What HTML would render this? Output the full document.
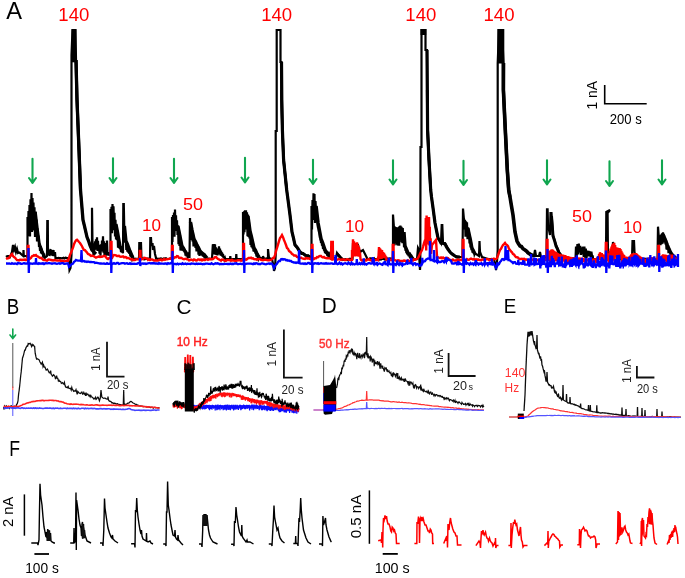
<!DOCTYPE html>
<html><head><meta charset="utf-8"><title>Figure</title>
<style>
html,body{margin:0;padding:0;background:#fff;}
body{width:685px;height:578px;overflow:hidden;}
svg{display:block;font-family:"Liberation Sans",sans-serif;}
</style></head><body>
<svg width="685" height="578" viewBox="0 0 685 578">
<defs><filter id="bl" x="-5%" y="-5%" width="110%" height="110%"><feGaussianBlur stdDeviation="0.35"/></filter></defs>
<rect width="685" height="578" fill="#fff"/>
<g>
<path d="M6.0 257.0 L7.0 256.3 L8.0 256.0 L9.0 256.1 L10.0 257.0 L11.0 254.7 L12.0 252.0 L13.0 245.0 L14.0 250.0 L15.0 247.0 L16.0 252.0 L17.0 249.0 L18.0 253.0 L19.0 252.5 L20.0 253.0 L21.0 254.0 L22.0 255.0 L23.3 256.0 L23.5 250.0 L23.8 256.0 L24.8 255.8 L26.0 256.0 L27.5 257.0 L27.5 217.0 L27.5 217.0 L28.0 236.1 L28.5 211.0 L29.0 233.7 L29.5 205.0 L30.0 236.4 L30.5 199.3 L31.0 220.2 L31.5 193.1 L32.0 232.1 L32.5 198.0 L33.0 218.9 L33.5 202.5 L34.0 230.4 L34.5 207.2 L35.0 236.9 L35.5 211.5 L36.0 236.0 L36.5 219.6 L37.0 241.4 L37.5 228.2 L38.0 240.2 L38.5 235.6 L39.0 246.9 L39.5 243.4 L40.0 251.0 L40.5 246.1 L41.0 253.4 L41.5 248.5 L42.0 254.2 L42.5 251.7 L43.0 255.1 L43.5 254.2 L44.0 256.3 L44.5 255.6 L45.0 257.7 L47.0 256.0 L47.3 221.0 L47.8 221.0 L48.0 255.0 L49.0 250.0 L49.5 256.0 L50.5 249.0 L51.0 255.0 L52.0 250.0 L52.5 256.0 L53.5 250.0 L54.0 256.0 L55.0 252.0 L55.5 258.0 L55.5 258.0 L56.5 258.2 L57.5 258.2 L58.5 257.8 L59.5 258.1 L60.5 258.0 L61.5 258.3 L62.5 258.2 L63.5 257.8 L64.5 258.4 L65.5 257.7 L66.5 257.9 L68.0 258.0 L69.0 262.0 L69.5 270.0 L70.5 268.0 L71.5 255.0 L71.5 55.0 L72.5 30.0 L74.0 30.0" fill="none" stroke="#000" stroke-width="2.2" stroke-linejoin="miter" />
<path d="M502.0 30.0 L503.5 63.0 L503.4 90.0 L505.3 130.0 L507.3 170.0 L508.7 190.0 L510.0 197.0 L513.0 215.0 L515.0 232.0 L517.0 241.0 L520.0 246.0 L522.0 247.9 L525.0 250.0 L527.0 252.2 L530.0 255.0 L532.0 255.7 L534.0 256.0 L535.0 250.0 L536.0 256.0 L539.0 256.0 L540.0 252.0 L541.0 257.0 L546.5 258.0 L547.0 209.4 L547.6 209.4 L548.0 225.0 L550.0 235.0 L550.5 213.0 L551.5 213.0 L553.0 235.0 L556.0 245.0 L559.0 252.0 L562.0 257.0 L562.0 259.0 L563.0 259.5 L564.0 258.9 L565.0 258.8 L566.0 259.6 L567.0 258.6 L568.0 259.3 L569.0 259.2 L570.0 258.5 L571.0 259.4 L572.0 259.5 L573.0 259.2 L574.0 259.3 L575.5 259.0 L576.0 246.5 L576.7 257.1 L577.4 244.0 L578.1 254.4 L578.8 243.6 L579.5 252.5 L580.2 245.9 L580.9 254.9 L581.6 247.3 L582.3 254.3 L583.0 246.7 L583.7 257.0 L584.4 246.6 L585.1 257.8 L585.8 248.6 L586.5 258.1 L587.2 250.6 L587.9 256.4 L588.6 250.9 L589.3 256.3 L590.0 251.4 L590.7 257.0 L591.4 251.7 L592.1 256.4 L592.8 256.4 L593.0 259.0 L594.0 259.0 L595.0 259.0 L596.0 259.2 L597.0 258.5 L598.0 259.3 L599.0 258.7 L600.0 258.5 L601.0 258.7 L602.0 259.3 L603.0 258.6 L604.0 259.3 L605.0 259.6 L606.0 259.0 L606.3 212.0 L610.0 210.0 L607.6 213.0 L608.0 258.0 L612.0 258.0 L613.0 242.0 L614.0 250.0 L616.0 252.0 L620.0 256.0 L620.0 259.0 L621.0 259.0 L622.0 258.9 L623.0 259.0 L624.0 259.2 L625.0 259.3 L626.0 259.1 L627.0 259.2 L628.0 258.5 L629.0 258.6 L630.0 258.7 L631.0 259.3 L632.0 259.0 L632.5 241.0 L634.0 241.0 L634.5 252.0 L636.0 259.0 L636.0 259.0 L637.0 258.8 L638.0 259.1 L639.0 258.4 L640.0 258.5 L641.0 258.7 L642.0 259.2 L643.0 259.2 L644.0 259.2 L645.0 258.7 L646.0 259.0 L647.0 259.0 L648.0 259.0 L649.0 258.5 L650.0 259.5 L651.0 258.6 L652.0 259.6 L653.0 259.5 L654.0 258.4 L655.0 259.0 L656.0 259.4 L657.5 259.0 L658.0 226.7 L659.0 240.0 L659.0 236.6 L659.5 244.8 L660.0 235.2 L660.5 245.2 L661.0 234.6 L661.5 244.2 L662.0 233.3 L662.5 243.6 L663.0 232.3 L663.5 239.4 L664.0 234.7 L664.5 242.5 L665.0 237.6 L665.5 244.4 L666.0 240.4 L666.5 249.5 L667.0 243.0 L667.5 249.9 L668.0 245.0 L668.5 253.1 L669.0 247.8 L669.5 253.1 L670.0 250.2 L670.5 255.0 L671.0 251.9 L671.5 255.4 L672.0 253.8 L672.5 256.7 L673.0 255.5 L673.5 256.6 L674.0 256.1 L674.5 257.3 L675.0 257.4 L675.5 258.1 L676.0 258.2 L678.0 259.0" fill="none" stroke="#000" stroke-width="2.2" stroke-linejoin="miter" />
<path d="M74.0 30.0 L75.5 30.0 L76.0 60.0 L77.0 100.0 L79.0 150.0 L80.5 190.0 L83.0 220.0 L85.0 228.8 L87.0 237.0 L89.0 241.9 L92.0 250.0 L92.0 207.7 L92.6 250.0 L93.0 245.3 L93.5 255.8 L94.0 243.4 L94.5 250.6 L95.0 241.3 L95.5 249.0 L96.0 239.2 L96.5 249.7 L97.0 237.4 L97.5 251.0 L98.0 240.9 L98.5 250.3 L99.0 244.9 L99.5 253.7 L100.0 248.4 L100.5 255.7 L101.0 244.4 L101.5 251.5 L102.0 240.6 L102.5 248.6 L103.0 236.2 L103.5 252.6 L104.0 241.4 L104.5 255.9 L105.0 246.3 L105.5 255.0 L106.0 243.1 L106.5 255.6 L107.0 240.5 L107.5 255.4 L108.0 252.1 L108.5 255.3 L109.0 253.3 L109.5 255.9 L110.0 253.9 L110.5 255.5 L110.5 256.0 L110.5 209.0 L110.5 209.5 L111.0 226.3 L111.5 206.9 L112.0 233.3 L112.5 204.0 L113.0 230.3 L113.5 206.4 L114.0 222.7 L114.5 212.8 L115.0 236.4 L115.5 219.7 L116.0 239.5 L116.5 226.0 L117.0 240.1 L117.5 231.4 L118.0 247.6 L118.5 237.0 L119.0 248.3 L119.5 242.6 L120.0 249.2 L120.5 246.2 L121.0 252.1 L121.5 247.9 L122.0 252.7 L122.5 249.2 L123.0 253.3 L123.3 204.0 L123.8 204.0 L123.8 204.5 L124.3 229.9 L124.8 228.5 L125.3 242.8 L125.8 238.2 L126.3 249.9 L126.8 242.4 L127.3 251.7 L127.8 244.5 L128.3 252.6 L128.8 247.1 L129.3 253.8 L129.8 249.5 L130.3 256.4 L130.8 252.2 L131.3 257.5 L131.8 255.0 L132.3 259.0 L132.8 258.0 L133.0 259.0 L134.0 259.1 L135.0 258.7 L136.0 258.8 L137.0 258.9 L138.0 258.9 L139.0 259.0 L139.3 243.0 L141.0 243.0 L141.5 259.0 L141.5 259.0 L142.5 258.7 L143.5 259.3 L144.5 259.4 L145.5 259.0 L146.5 259.0 L147.5 258.7 L148.5 258.7 L150.0 259.0 L150.3 238.0 L151.0 238.0 L151.5 246.0 L152.5 243.0 L153.0 250.0 L154.0 246.0 L155.0 254.0 L156.0 258.0 L156.0 259.0 L157.0 258.8 L158.0 258.7 L159.0 259.2 L160.0 258.6 L161.0 258.5 L162.0 259.2 L163.0 258.8 L164.0 258.5 L165.0 258.8 L166.0 258.3 L167.0 258.7 L168.0 259.0 L169.0 258.9 L170.0 258.7 L171.0 258.3 L172.0 258.5 L172.0 217.0 L172.0 217.2 L172.5 242.0 L173.0 214.9 L173.5 235.2 L174.0 212.4 L174.5 236.7 L175.0 209.5 L175.5 229.0 L176.0 215.2 L176.5 231.0 L177.0 220.3 L177.5 235.0 L178.0 225.4 L178.5 244.1 L179.0 230.3 L179.5 245.9 L180.0 235.0 L180.5 250.4 L181.0 240.2 L181.5 250.6 L182.0 245.4 L182.5 249.6 L183.0 246.9 L183.5 251.1 L184.0 248.9 L184.5 252.4 L185.0 250.2 L185.5 255.6 L186.0 251.6 L186.5 256.3 L187.0 253.1 L187.5 256.2 L188.0 255.0 L188.5 256.7 L189.0 256.3 L189.5 258.0 L190.0 218.0 L190.0 218.4 L190.5 235.6 L191.0 223.1 L191.5 240.0 L192.0 228.5 L192.5 241.5 L193.0 233.5 L193.5 246.5 L194.0 238.1 L194.5 246.4 L195.0 240.2 L195.5 247.9 L196.0 242.6 L196.5 251.4 L197.0 244.2 L197.5 250.0 L198.0 246.4 L198.5 254.8 L199.0 248.1 L199.5 255.9 L200.0 250.5 L200.5 254.5 L201.0 251.2 L201.5 255.1 L202.0 252.9 L202.5 256.1 L203.0 253.6 L203.5 256.9 L204.0 254.7 L204.5 258.3 L205.0 256.3 L205.5 257.8 L206.0 257.2 L206.5 258.2 L207.0 258.3 L212.0 259.0 L212.8 245.0 L213.0 244.5 L213.5 251.0 L214.0 244.1 L214.5 254.5 L215.0 244.2 L215.5 254.7 L216.0 247.4 L216.5 255.0 L217.0 250.3 L217.5 255.5 L218.0 248.5 L218.5 254.4 L219.0 246.3 L219.5 253.6 L220.0 248.5 L220.5 255.3 L221.0 250.6 L221.5 256.0 L222.0 252.3 L222.5 256.9 L223.0 254.0 L223.5 257.9 L224.0 256.1 L224.5 259.2 L225.0 258.0 L225.5 259.6 L226.0 259.3 L226.0 259.0 L230.0 259.0 L230.3 256.0 L230.6 259.0 L236.0 259.0 L236.3 254.0 L236.6 259.0 L243.0 259.0 L243.0 212.0 L243.0 212.4 L243.5 234.5 L244.0 211.2 L244.5 232.3 L245.0 210.3 L245.5 226.0 L246.0 210.4 L246.5 229.5 L247.0 212.3 L247.5 236.3 L248.0 214.5 L248.5 236.9 L249.0 222.3 L249.5 238.5 L250.0 230.5 L250.5 244.9 L251.0 234.6 L251.5 247.2 L252.0 238.8 L252.5 248.5 L253.0 243.0 L253.5 251.5 L254.0 247.3 L254.5 251.8 L255.0 249.4 L255.5 253.6 L256.0 251.6 L256.5 256.6 L257.0 253.3 L257.5 256.1 L258.0 255.5 L258.5 258.5 L259.0 257.1 L263.0 259.0 L263.0 256.0 L264.0 259.0 L268.0 258.0 L268.0 249.0 L269.0 258.0 L272.0 259.0 L273.5 266.0 L274.0 271.0 L275.0 268.0 L275.7 255.0 L275.7 131.0 L276.7 131.0 L276.7 30.0 L280.5 30.0 L280.5 62.0 L281.5 62.0 L281.5 100.0 L281.5 100.0 L282.4 130.0 L283.6 160.0 L286.7 190.0 L290.0 215.0 L292.0 232.0 L295.0 245.0 L297.0 247.7 L300.0 252.0 L302.0 252.8 L305.0 255.0 L307.0 255.5 L310.0 257.0 L311.5 257.0 L311.5 206.0 L311.5 206.0 L312.0 229.5 L312.5 200.1 L313.0 219.9 L313.5 193.3 L314.0 218.9 L314.5 193.9 L315.0 223.0 L315.5 201.0 L316.0 209.7 L316.5 208.6 L317.0 218.0 L317.5 217.7 L318.0 228.1 L318.5 225.3 L319.0 231.6 L319.5 230.1 L320.0 237.9 L320.5 235.6 L321.0 243.0 L321.5 239.5 L322.0 245.6 L322.5 242.6 L323.0 248.9 L323.5 245.2 L324.0 250.3 L324.5 247.6 L325.0 253.2 L325.5 250.1 L326.0 253.7 L326.5 251.1 L327.0 253.7 L327.5 253.0 L328.0 254.8 L328.5 254.0 L329.0 256.9 L329.5 255.3 L330.0 257.2 L332.0 258.0 L336.0 258.0 L337.0 253.0 L340.0 257.0 L343.0 260.0 L343.0 260.0 L344.0 259.5 L345.0 259.2 L346.0 259.6 L347.0 260.2 L348.0 260.0 L349.0 259.0 L350.0 258.7 L351.0 259.8 L352.5 259.0 L353.0 243.0 L354.0 250.0 L356.0 246.0 L358.0 245.0 L360.0 252.0 L363.0 250.0 L365.0 254.0 L367.0 258.0 L367.0 259.0 L368.0 259.1 L369.0 259.3 L370.0 258.3 L371.0 258.3 L372.0 259.3 L373.0 258.9 L374.0 258.3 L375.0 259.7 L376.0 259.2 L377.0 259.5 L378.0 258.3 L379.0 259.6 L380.0 258.3 L381.0 259.6 L382.0 258.9 L383.0 258.7 L384.0 259.1 L385.0 259.7 L386.0 258.6 L387.0 258.4 L388.0 259.0 L389.0 258.6 L390.0 258.4 L391.0 258.5 L392.0 258.3 L393.0 259.0 L393.0 214.6 L394.0 228.0 L394.0 226.1 L394.4 245.4 L394.8 226.6 L395.2 240.3 L395.6 227.0 L396.0 243.1 L396.4 227.3 L396.8 244.7 L397.2 227.6 L397.6 245.6 L398.0 228.0 L398.4 240.4 L398.8 227.1 L399.2 245.7 L399.6 225.9 L400.0 237.0 L400.4 225.5 L400.8 238.6 L401.2 226.5 L401.6 242.2 L402.0 227.5 L402.4 243.2 L402.8 228.1 L403.2 241.3 L403.6 233.7 L404.0 246.9 L404.4 240.4 L404.8 248.0 L405.2 245.8 L405.6 250.9 L406.0 247.5 L406.4 253.2 L406.8 249.3 L407.2 254.5 L407.6 251.5 L408.0 255.5 L408.4 252.7 L408.8 256.5 L409.2 254.2 L409.6 256.0 L410.0 255.2 L410.4 257.6 L410.8 256.1 L411.2 258.3 L411.6 257.3 L412.0 259.1 L412.4 258.4 L412.8 259.7 L417.0 259.0 L418.0 248.0 L419.0 250.0 L419.5 262.0 L420.0 270.0 L420.3 265.0 L420.5 147.0 L421.5 147.0 L421.5 30.0 L425.5 30.0 L425.5 50.0 L427.0 50.0 L427.3 100.0 L427.3 100.0 L427.6 130.0 L429.0 160.0 L430.7 190.0 L431.5 197.0 L435.0 223.0 L438.0 238.0 L441.0 243.0 L441.7 225.0 L442.3 225.0 L443.0 243.0 L445.0 243.0 L450.0 252.0 L455.0 256.0 L460.0 257.0 L462.5 257.0 L463.0 208.5 L464.0 220.0 L464.0 218.6 L464.5 229.5 L465.0 219.7 L465.5 236.7 L466.0 221.2 L466.5 235.7 L467.0 222.2 L467.5 239.2 L468.0 227.2 L468.5 238.8 L469.0 232.3 L469.5 243.5 L470.0 237.3 L470.5 247.5 L471.0 242.2 L471.5 250.2 L472.0 247.2 L472.5 252.6 L473.0 249.0 L473.5 253.4 L474.0 251.1 L474.5 254.4 L475.0 253.3 L479.0 256.0 L479.5 241.0 L480.0 252.0 L482.0 257.0 L488.0 259.0 L494.0 259.0 L495.5 266.0 L496.0 270.0 L496.8 265.0 L497.7 250.0 L497.7 63.0 L499.0 30.0 L501.0 30.0" fill="none" stroke="#000" stroke-width="2.2" stroke-linejoin="miter" />
<path d="M76.0 60.0 L77.0 100.0 L79.0 150.0 L80.5 190.0 L83.0 220.0 L84.5 226.2 L87.0 237.0 L88.5 240.8 L90.0 245.5 L92.0 250.0 L93.5 251.6 L96.0 254.0" fill="none" stroke="#000" stroke-width="3.3" stroke-linejoin="miter" />
<path d="M281.5 62.0 L281.8 100.0 L282.4 130.0 L283.6 160.0 L285.1 174.3 L286.7 190.0 L288.2 201.3 L290.0 215.0 L292.0 232.0 L293.5 238.2 L295.0 245.0 L296.5 246.5 L298.0 248.6 L300.0 252.0 L301.5 253.4 L303.0 253.5 L305.0 255.0 L306.5 256.2 L308.0 255.8 L310.0 257.0" fill="none" stroke="#000" stroke-width="3.2" stroke-linejoin="miter" />
<path d="M427.0 50.0 L427.6 130.0 L429.0 160.0 L430.7 190.0 L431.5 197.0 L433.0 207.8 L435.0 223.0 L436.5 230.5 L438.0 238.0 L439.5 240.1 L441.0 243.0 L442.5 243.2 L445.0 244.0 L446.5 247.0 L448.0 249.3 L450.0 252.0 L451.5 253.6 L453.0 254.6 L455.0 256.0 L456.5 256.9 L458.0 257.2 L460.0 257.0" fill="none" stroke="#000" stroke-width="3.2" stroke-linejoin="miter" />
<path d="M503.5 63.0 L503.4 90.0 L505.3 130.0 L507.3 170.0 L508.7 190.0 L510.0 197.0 L511.5 206.1 L513.0 215.0 L515.0 232.0 L517.0 241.0 L518.5 243.8 L520.0 246.0 L521.5 246.6 L523.0 248.7 L525.0 250.0 L526.5 251.1 L528.0 252.8 L530.0 254.0 L531.5 255.0 L534.0 256.0" fill="none" stroke="#000" stroke-width="3.6" stroke-linejoin="miter" />
<path d="M35.5 212.0 L37.5 229.0 L39.5 244.0 L41.0 247.8 L43.5 255.0" fill="none" stroke="#000" stroke-width="2.6" stroke-linejoin="miter" />
<path d="M116.0 224.0 L117.5 231.6 L120.0 246.0 L121.5 249.1 L123.0 251.0" fill="none" stroke="#000" stroke-width="3.2" stroke-linejoin="miter" />
<path d="M124.5 226.0 L126.0 241.0 L127.5 244.2 L130.0 251.0 L131.5 254.5 L133.0 258.0" fill="none" stroke="#000" stroke-width="3.2" stroke-linejoin="miter" />
<path d="M178.0 226.0 L179.5 233.3 L182.0 246.0 L183.5 248.2 L185.0 251.0 L186.5 253.2 L189.0 256.0" fill="none" stroke="#000" stroke-width="3.2" stroke-linejoin="miter" />
<path d="M190.5 222.0 L192.0 230.0 L194.0 239.0 L195.5 241.7 L197.0 245.2 L198.5 247.7 L200.0 251.0 L201.5 252.6 L203.0 253.9 L204.5 255.0 L207.0 258.0" fill="none" stroke="#000" stroke-width="3.4" stroke-linejoin="miter" />
<path d="M248.0 216.0 L250.0 231.0 L251.5 236.9 L254.0 248.0 L255.5 250.3 L257.0 254.0 L259.0 257.0" fill="none" stroke="#000" stroke-width="3.4" stroke-linejoin="miter" />
<path d="M316.0 206.0 L318.0 223.0 L319.5 231.0 L321.0 239.0 L322.5 242.7 L325.0 250.0 L326.5 252.4 L328.0 254.3 L330.0 256.0" fill="none" stroke="#000" stroke-width="3.6" stroke-linejoin="miter" />
<path d="M404.0 232.0 L405.0 246.0 L406.5 249.4 L408.0 253.0 L409.5 254.3 L411.0 256.2 L413.0 259.0" fill="none" stroke="#000" stroke-width="3.4" stroke-linejoin="miter" />
<path d="M468.0 228.0 L469.0 233.0 L470.5 239.9 L472.0 248.0 L473.5 250.8 L475.0 254.0" fill="none" stroke="#000" stroke-width="3.2" stroke-linejoin="miter" />
<path d="M551.5 216.0 L553.0 236.0 L554.5 240.4 L556.0 246.0 L557.5 249.1 L559.0 253.0 L560.5 254.7 L562.0 257.0" fill="none" stroke="#000" stroke-width="3.0" stroke-linejoin="miter" />
<path d="M663.0 234.0 L664.5 237.6 L666.0 241.0 L667.5 245.3 L670.0 251.0 L671.5 253.8 L673.0 256.0 L674.5 256.9 L676.0 258.0" fill="none" stroke="#000" stroke-width="3.2" stroke-linejoin="miter" />
<path d="M337.0 254.0 L338.5 255.4 L340.0 257.0 L341.5 258.5 L343.0 260.0" fill="none" stroke="#000" stroke-width="3" stroke-linejoin="miter" />
<rect x="71.6" y="29.3" width="4.6" height="33" fill="#000"/>
<path d="M76 60 L77 100 L79 150 L80.5 190" stroke="#000" stroke-width="3" fill="none"/>
<rect x="497.3" y="29" width="7" height="34.5" fill="#000"/>
<path d="M503.3 63 L503.4 90 L505.3 130 L507.3 170 L508.7 190 L510 197" stroke="#000" stroke-width="3.2" fill="none"/>
<rect x="420.6" y="29" width="5.6" height="6" fill="#000"/>
<path d="M427.3 90 L427.6 130 L429 160 L430.7 190" stroke="#000" stroke-width="2.8" fill="none"/>
<path d="M281.5 90 L282.4 130 L283.6 160 L286.7 190" stroke="#000" stroke-width="2.6" fill="none"/>
<path d="M6.0 259.0 L7.0 258.5 L8.0 258.2 L9.0 258.0 L10.0 256.2 L11.0 255.1 L12.0 254.0 L13.0 256.0 L14.0 257.0 L15.0 257.6 L16.0 259.0 L17.0 260.0 L18.0 260.1 L19.0 260.4 L20.0 259.7 L21.0 259.8 L22.0 260.0 L23.0 259.6 L24.0 259.7 L25.0 259.6 L26.0 260.1 L27.0 259.5 L27.6 259.5 L27.8 246.0 L28.5 246.0 L28.7 259.5 L29.0 259.0 L30.0 258.7 L31.0 257.9 L32.0 256.2 L33.0 256.0 L34.0 255.1 L35.0 255.6 L36.0 255.0 L37.0 256.2 L38.0 256.5 L39.0 257.4 L40.0 258.0 L41.0 257.8 L42.0 258.7 L43.0 259.7 L44.0 260.0 L45.0 260.0 L46.0 260.4 L47.0 260.6 L48.0 259.7 L49.0 259.5 L50.0 259.6 L51.0 260.0 L52.0 260.2 L53.0 260.5 L54.0 260.3 L55.0 260.0 L56.0 260.3 L57.0 260.6 L58.0 260.4 L59.0 260.6 L60.0 260.2 L61.0 261.2 L62.0 261.0 L63.0 260.7 L64.0 261.5 L65.0 261.2 L66.0 260.8 L67.0 260.6 L68.0 261.0 L69.0 258.0 L70.0 255.0 L71.0 252.8 L72.0 250.0 L73.0 247.6 L74.0 244.2 L75.0 242.0 L76.0 240.3 L77.0 239.7 L78.0 240.8 L79.0 242.0 L80.0 243.0 L81.0 244.6 L82.0 246.2 L83.0 248.4 L84.0 250.0 L85.0 250.2 L86.0 251.4 L87.0 252.5 L88.0 253.9 L89.0 254.3 L90.0 255.0 L91.0 255.9 L92.0 255.8 L93.0 255.9 L94.0 256.3 L95.0 257.0 L96.0 257.6 L97.0 257.2 L98.0 256.8 L99.0 256.4 L100.0 257.0 L101.0 256.8 L102.0 256.8 L103.0 256.3 L104.0 255.9 L105.0 256.0 L106.0 257.2 L107.0 258.5 L108.0 259.0 L109.0 258.2 L110.3 258.0 L110.6 258.0 L110.8 242.0 L111.5 242.0 L111.7 258.0 L112.0 258.0 L113.0 255.9 L114.0 255.0 L115.0 255.1 L116.0 255.4 L117.0 256.0 L118.0 256.0 L119.0 255.8 L120.0 256.6 L121.0 256.7 L122.0 256.6 L123.0 256.4 L124.0 257.4 L125.0 257.0 L126.0 257.2 L127.0 258.2 L128.0 257.9 L129.0 258.3 L130.0 259.0 L131.0 259.5 L132.0 259.2 L133.0 260.1 L134.0 259.8 L135.0 260.0 L136.0 259.4 L137.0 259.2 L138.0 259.2 L139.3 259.0 L139.6 259.5 L139.8 251.0 L140.5 251.0 L140.7 259.5 L141.0 259.0 L142.0 258.9 L143.0 259.0 L144.0 257.8 L145.0 258.0 L146.0 258.3 L147.0 258.5 L148.0 259.8 L149.0 259.2 L150.0 260.0 L151.0 259.5 L152.0 259.5 L153.0 259.9 L154.0 260.5 L155.0 260.5 L156.0 260.3 L157.0 260.6 L158.0 260.5 L159.0 259.8 L160.0 260.0 L161.0 259.5 L162.0 260.3 L163.0 260.0 L164.0 259.1 L165.0 259.8 L166.0 259.3 L167.0 259.2 L168.0 259.1 L169.0 258.8 L170.0 258.5 L171.3 259.0 L171.8 259.5 L172.0 246.0 L172.7 246.0 L172.9 259.5 L173.0 259.0 L174.0 258.0 L175.0 257.3 L176.0 257.3 L177.0 256.0 L178.0 256.2 L179.0 257.9 L180.0 258.0 L181.0 257.8 L182.0 258.2 L183.0 259.0 L184.0 259.2 L185.0 258.9 L186.0 258.7 L187.0 259.4 L188.0 259.4 L189.0 260.3 L190.0 260.0 L191.0 259.6 L192.0 259.8 L193.0 260.5 L194.0 259.4 L195.0 259.9 L196.0 260.4 L197.0 260.3 L198.0 259.4 L199.0 259.4 L200.0 260.0 L201.0 259.4 L202.0 260.4 L203.0 259.5 L204.0 260.0 L205.0 260.1 L206.0 259.3 L207.0 259.2 L208.0 259.9 L209.0 259.4 L210.0 258.9 L211.0 259.4 L212.0 258.9 L213.0 259.0 L214.0 258.1 L215.0 257.1 L216.0 257.0 L217.0 258.1 L218.0 259.0 L219.0 259.4 L220.0 260.0 L221.0 260.6 L222.0 259.5 L223.0 259.7 L224.0 260.1 L225.0 260.7 L226.0 260.7 L227.0 260.0 L228.0 259.9 L229.0 260.1 L230.0 260.2 L231.0 260.8 L232.0 259.9 L233.0 260.6 L234.0 260.6 L235.0 260.7 L236.0 260.7 L237.0 260.5 L238.0 260.2 L239.0 260.2 L240.0 260.3 L241.0 260.8 L242.0 260.0 L243.0 260.5 L243.1 260.0 L243.3 244.0 L244.0 244.0 L244.2 260.0 L244.5 260.0 L245.5 259.3 L246.5 259.6 L247.5 258.6 L248.5 258.0 L250.0 258.0 L251.0 257.6 L252.0 258.4 L253.0 258.3 L254.0 259.2 L255.0 259.3 L256.0 259.0 L257.0 259.8 L258.0 259.1 L259.0 259.0 L260.0 259.2 L261.0 259.8 L262.0 260.0 L263.0 260.3 L264.0 259.9 L265.0 259.7 L266.0 259.9 L267.0 260.1 L268.0 260.2 L269.0 260.3 L270.0 260.0 L271.0 259.9 L272.0 259.2 L273.0 258.0 L274.0 258.0 L275.0 255.1 L276.0 251.1 L277.0 248.0 L278.0 244.7 L279.0 241.2 L280.0 238.0 L281.0 236.8 L282.0 235.0 L283.0 237.1 L284.0 240.0 L285.0 242.4 L286.0 245.0 L287.0 248.0 L288.0 248.8 L289.0 250.9 L290.0 251.7 L291.0 252.6 L292.0 254.0 L293.0 254.4 L294.0 255.6 L295.0 255.5 L296.0 255.7 L297.0 256.9 L298.0 257.2 L299.0 258.1 L300.0 258.0 L301.0 257.6 L302.0 258.2 L303.0 258.7 L304.0 258.8 L305.0 259.0 L306.0 258.0 L307.0 258.5 L308.0 258.3 L309.0 258.5 L310.0 259.0 L311.3 259.0 L311.6 259.5 L311.8 245.0 L312.5 245.0 L312.7 259.5 L313.0 259.0 L314.0 259.1 L315.0 258.2 L316.0 258.2 L317.0 257.1 L318.0 257.3 L319.0 256.4 L320.0 256.0 L321.0 256.0 L322.0 257.0 L323.0 257.5 L324.0 256.9 L325.0 257.8 L326.0 258.0 L327.0 258.3 L328.0 258.1 L329.0 258.4 L330.0 258.4 L331.0 259.0 L331.3 242.0 L332.8 242.0 L333.0 259.0 L333.0 259.5 L334.0 259.2 L335.0 259.3 L336.0 259.7 L337.0 259.8 L338.0 259.3 L339.0 259.1 L340.0 259.5 L341.0 259.9 L342.0 259.4 L343.0 259.5 L344.0 259.4 L345.0 260.2 L346.0 259.9 L347.0 259.3 L348.0 259.4 L349.0 259.8 L350.0 260.0 L351.0 260.1 L352.0 260.0 L352.0 250.1 L352.5 257.8 L353.0 239.4 L353.5 255.1 L354.0 241.2 L354.5 256.4 L355.0 243.6 L355.5 256.5 L356.0 242.8 L356.5 256.0 L357.0 242.2 L357.5 252.2 L358.0 245.1 L358.5 256.6 L359.0 247.1 L359.5 255.6 L360.0 252.5 L360.5 259.0 L361.0 260.0 L362.0 260.6 L363.0 259.9 L364.0 260.5 L365.0 259.8 L366.0 260.6 L367.0 259.9 L368.0 259.5 L369.0 259.2 L370.0 260.1 L371.0 260.2 L372.0 260.7 L373.0 259.3 L374.0 260.2 L375.0 259.8 L376.0 260.0 L377.0 259.4 L378.0 260.0 L378.0 258.2 L378.5 256.3 L379.0 247.0 L379.5 259.3 L380.0 248.3 L380.5 255.4 L381.0 249.6 L381.5 259.0 L382.0 250.1 L382.5 255.6 L383.0 252.1 L383.5 258.1 L384.0 253.0 L384.5 257.1 L385.0 254.7 L385.5 257.9 L386.0 256.4 L386.5 260.0 L387.5 260.4 L388.5 259.6 L389.5 260.3 L390.5 259.7 L392.3 260.0 L392.6 260.0 L392.8 245.0 L393.5 245.0 L393.7 260.0 L394.0 260.0 L395.0 260.1 L396.0 260.7 L397.0 260.9 L398.0 260.3 L399.0 260.5 L400.0 261.0 L401.0 260.9 L402.0 261.0 L403.0 260.9 L404.0 260.5 L405.0 260.7 L406.0 261.3 L407.0 261.5 L408.0 260.4 L409.0 261.1 L410.0 261.0 L411.0 261.0 L412.0 259.9 L413.0 260.5 L414.0 259.4 L415.0 259.7 L416.0 259.3 L417.0 259.0 L418.0 258.0 L419.0 256.2 L420.0 253.8 L421.0 251.9 L422.0 250.0 L423.0 246.8 L424.0 243.2 L425.0 240.0 L425.0 240.4 L425.4 245.5 L425.8 217.9 L426.2 250.4 L426.6 215.6 L427.0 243.0 L427.4 219.6 L427.8 239.5 L428.2 219.1 L428.6 244.5 L429.0 217.1 L429.4 245.6 L429.8 226.7 L430.2 252.0 L430.6 238.3 L431.0 253.8 L432.0 245.0 L436.0 240.0 L437.0 256.0 L437.0 257.0 L438.0 257.3 L439.0 257.7 L440.0 258.0 L441.0 257.4 L442.0 258.2 L443.0 257.5 L444.0 258.3 L445.0 258.3 L446.0 258.0 L447.0 258.0 L448.0 258.1 L449.0 259.3 L450.0 260.0 L451.0 259.9 L452.0 260.5 L453.0 259.6 L454.0 260.4 L455.0 260.6 L456.0 260.3 L457.0 260.4 L458.0 259.6 L459.0 260.6 L460.0 260.0 L461.0 260.0 L462.3 260.0 L462.6 260.0 L462.8 240.0 L463.5 240.0 L463.7 260.0 L464.0 260.0 L465.0 260.4 L466.0 260.2 L467.0 259.1 L468.0 259.7 L469.0 259.7 L470.0 259.0 L471.0 258.6 L472.0 259.0 L473.0 259.6 L474.0 259.0 L475.0 260.0 L476.0 259.3 L477.0 260.1 L478.0 259.4 L479.0 259.9 L480.0 260.0 L481.0 260.4 L482.0 259.5 L483.0 259.5 L484.0 259.8 L485.0 259.5 L486.0 259.1 L487.0 259.2 L488.0 259.1 L489.0 260.0 L490.0 259.6 L491.0 259.8 L492.0 258.9 L493.0 259.5 L494.0 258.7 L495.0 259.1 L496.0 259.0 L497.0 258.0 L498.0 255.5 L499.0 252.5 L500.0 250.0 L501.0 248.8 L502.0 246.7 L503.0 245.0 L504.0 244.1 L505.0 243.0 L506.0 244.5 L507.0 245.0 L508.0 246.2 L509.0 248.9 L510.0 250.0 L511.0 251.4 L512.0 252.3 L513.0 254.0 L514.0 254.5 L515.0 256.0 L516.0 257.2 L517.0 257.3 L518.0 257.6 L519.0 258.7 L520.0 259.0 L521.0 259.0 L522.0 258.8 L523.0 259.6 L524.0 258.9 L525.0 259.9 L526.0 259.3 L527.0 259.9 L528.0 260.4 L529.0 260.0 L530.0 260.0 L531.0 260.2 L532.0 259.8 L533.0 259.4 L534.0 259.4 L535.0 259.6 L536.0 260.1 L537.0 259.9 L538.0 260.0 L539.0 260.5 L540.0 259.6 L541.0 259.7 L542.0 260.2 L543.0 259.4 L544.0 259.4 L545.0 259.8 L546.3 260.0 L546.6 258.0 L546.8 240.0 L547.5 240.0 L547.7 258.0 L547.8 252.1 L548.2 261.0 L548.7 251.5 L549.2 259.5 L549.6 251.1 L550.1 261.7 L550.5 250.4 L551.0 259.9 L551.4 249.5 L551.9 256.5 L552.3 249.4 L552.8 262.0 L553.2 250.0 L553.7 258.9 L554.1 251.1 L554.6 258.3 L555.0 251.5 L555.5 261.5 L555.9 251.9 L556.4 259.5 L556.8 252.7 L557.3 261.2 L557.7 253.2 L558.2 260.8 L558.6 253.9 L559.1 259.5 L559.5 253.9 L560.0 258.9 L560.4 254.1 L560.9 260.7 L561.3 254.5 L561.8 262.0 L562.2 254.5 L562.7 259.7 L563.1 254.6 L563.6 260.7 L564.0 255.4 L564.5 262.4 L564.9 255.1 L565.4 260.6 L565.8 255.6 L566.3 260.6 L566.7 256.2 L567.2 262.4 L567.6 256.2 L568.1 262.0 L568.5 256.4 L569.0 260.1 L569.4 257.2 L569.9 260.8 L570.3 257.0 L570.8 260.5 L571.2 257.4 L571.7 261.6 L572.1 257.4 L572.6 261.6 L573.0 257.1 L573.5 262.7 L573.9 257.1 L574.4 262.9 L574.8 257.2 L575.3 260.8 L575.7 257.5 L576.2 260.5 L576.6 257.5 L577.1 262.2 L577.5 257.5 L578.0 261.7 L578.4 257.7 L578.9 261.5 L579.3 257.5 L579.8 261.2 L580.2 258.0 L580.7 262.4 L581.1 258.0 L581.6 263.0 L582.0 257.7 L582.5 262.4 L582.9 258.1 L583.4 260.5 L583.8 258.3 L584.3 262.2 L584.7 258.5 L585.2 262.2 L585.6 258.3 L586.1 260.8 L586.5 258.7 L587.0 261.4 L587.4 258.9 L587.9 260.8 L588.3 259.0 L588.8 261.2 L589.2 259.3 L589.7 261.3 L590.1 259.2 L590.6 261.5 L591.0 259.2 L591.5 262.4 L591.9 258.9 L592.4 261.7 L592.8 258.6 L593.3 261.0 L593.7 258.6 L594.2 262.9 L594.6 258.4 L595.1 260.8 L595.5 258.4 L596.0 262.7 L596.4 258.1 L596.9 262.9 L597.3 257.8 L597.8 260.9 L598.2 256.0 L598.7 259.9 L599.1 253.8 L599.6 260.0 L600.0 252.2 L600.5 258.6 L600.9 253.1 L601.4 258.5 L601.8 253.2 L602.3 258.9 L602.7 254.3 L603.2 258.8 L603.6 254.5 L604.1 262.2 L604.5 255.3 L605.0 262.9 L605.4 256.4 L605.6 260.0 L605.8 243.0 L606.5 243.0 L606.7 260.0 L607.0 258.5 L607.5 261.4 L607.9 256.1 L608.4 260.6 L608.8 253.4 L609.3 262.9 L609.7 250.9 L610.2 258.2 L610.6 248.6 L611.1 260.9 L611.5 246.5 L612.0 263.3 L612.4 244.6 L612.9 260.7 L613.3 243.5 L613.8 259.6 L614.2 242.7 L614.7 253.9 L615.1 245.1 L615.6 256.0 L616.0 247.4 L616.5 263.2 L616.9 247.5 L617.4 260.0 L617.8 247.9 L618.3 260.7 L618.7 248.1 L619.2 259.3 L619.6 248.0 L620.1 256.9 L620.5 249.1 L621.0 257.9 L621.4 250.9 L621.9 263.5 L622.3 252.5 L622.8 259.5 L623.2 254.2 L623.7 263.5 L624.1 255.1 L624.6 261.5 L625.0 256.5 L625.5 262.8 L625.9 256.5 L626.4 262.3 L626.8 256.9 L627.3 262.6 L627.7 257.2 L628.2 262.5 L628.6 257.0 L629.1 261.2 L629.5 256.6 L630.0 263.1 L630.4 255.5 L630.9 263.1 L631.3 254.4 L631.8 260.0 L632.2 253.5 L632.7 260.2 L633.1 253.2 L633.6 261.4 L634.0 253.2 L634.5 258.8 L634.9 253.1 L635.4 258.8 L635.8 253.0 L636.3 262.4 L636.7 253.7 L637.2 259.2 L637.6 254.5 L638.1 261.8 L638.5 255.4 L639.0 262.5 L639.4 255.8 L639.9 261.5 L640.3 256.6 L640.8 260.8 L641.2 257.1 L641.7 262.4 L642.1 257.5 L642.6 263.0 L643.0 258.3 L643.5 261.7 L643.9 258.8 L644.4 263.1 L644.8 259.1 L645.3 261.7 L645.7 259.1 L646.2 263.2 L646.6 258.6 L647.1 261.1 L647.5 258.1 L648.0 263.0 L648.4 257.8 L648.9 261.4 L649.3 257.8 L649.8 263.0 L650.2 257.1 L650.7 262.7 L651.1 257.3 L651.6 261.9 L652.0 257.4 L652.5 262.5 L652.9 257.5 L653.4 260.5 L653.8 257.9 L654.3 263.2 L654.7 258.2 L655.2 263.2 L655.6 258.0 L656.1 260.7 L656.5 258.3 L657.0 261.4 L657.4 258.2 L658.1 262.0 L658.3 246.0 L659.0 246.0 L659.2 262.0 L659.5 258.1 L660.0 261.9 L660.4 257.0 L660.9 263.2 L661.3 256.2 L661.8 263.9 L662.2 255.2 L662.7 260.2 L663.1 254.4 L663.6 261.5 L664.0 254.6 L664.5 261.8 L664.9 254.5 L665.4 261.1 L665.8 254.8 L666.3 260.5 L666.7 255.3 L667.2 262.0 L667.6 255.3 L668.1 260.6 L668.5 255.1 L669.0 262.9 L669.4 255.1 L669.9 259.8 L670.3 254.9 L670.8 260.6 L671.2 254.7 L671.7 260.6 L672.1 254.5 L672.6 261.9 L673.0 255.2 L673.5 261.3 L673.9 256.0 L674.4 262.4 L674.8 257.3 L675.3 261.5 L675.7 257.7 L676.2 263.2 L676.6 258.1 L678.0 262.0" fill="none" stroke="#f00" stroke-width="2.4" stroke-linejoin="miter" />
<path d="M6.0 263.5 L7.0 263.5 L8.0 263.6 L9.0 263.4 L10.0 263.7 L11.0 263.9 L12.0 263.2 L13.0 263.7 L14.0 263.8 L15.0 263.4 L16.0 263.5 L17.0 264.0 L18.0 263.0 L19.0 263.5 L20.0 263.2 L21.0 263.8 L22.0 263.9 L23.0 263.5 L24.0 263.1 L25.0 263.6 L26.0 263.5 L27.0 263.7 L28.0 263.5 L28.2 263.5 L28.5 248.0 L28.8 273.0 L29.1 263.5 L29.5 263.5 L30.5 263.5 L31.5 263.6 L32.5 263.8 L33.5 263.5 L34.5 263.4 L35.7 263.5 L36.0 258.0 L36.3 263.5 L37.0 263.5 L38.0 263.9 L39.0 263.2 L40.0 263.7 L41.0 263.4 L42.0 263.8 L43.0 263.1 L44.0 264.0 L45.0 263.4 L46.0 263.1 L47.0 263.3 L48.0 263.4 L49.0 263.0 L50.0 263.4 L51.0 263.4 L52.0 263.7 L53.0 263.4 L54.0 263.3 L55.0 263.2 L56.0 263.7 L57.0 263.9 L58.0 263.5 L59.0 263.2 L60.0 263.8 L61.0 263.4 L62.0 263.2 L63.0 263.1 L64.0 263.8 L65.0 263.8 L66.0 263.6 L67.0 263.5 L68.0 263.5 L69.0 267.0 L70.0 266.1 L71.0 264.7 L72.0 264.0 L73.0 263.5 L74.0 261.9 L75.0 261.1 L76.0 260.0 L77.0 260.5 L78.0 260.7 L79.0 260.6 L80.0 260.6 L81.0 261.0 L81.5 250.0 L82.0 261.0 L82.0 261.0 L83.0 261.2 L84.0 260.9 L85.0 261.7 L86.0 261.4 L87.0 262.0 L88.0 261.5 L89.0 261.8 L90.0 262.0 L91.0 261.9 L92.0 262.2 L93.0 262.1 L94.0 262.1 L95.0 263.0 L96.0 262.7 L97.0 262.8 L98.0 263.0 L99.0 263.3 L100.0 263.5 L101.0 263.4 L102.0 263.6 L103.0 263.7 L104.0 263.4 L105.0 263.9 L106.0 263.9 L107.0 263.1 L108.0 263.8 L109.0 263.9 L110.5 263.5 L110.7 263.5 L111.0 250.0 L111.3 273.0 L111.6 263.5 L112.0 263.5 L113.0 263.8 L114.0 263.1 L115.0 263.8 L116.0 263.6 L117.0 263.0 L118.0 263.0 L119.0 264.0 L120.0 263.7 L121.0 263.3 L122.0 263.1 L123.0 263.1 L124.0 263.2 L125.0 263.8 L126.0 263.3 L127.0 263.2 L128.0 263.9 L129.0 263.8 L130.0 263.2 L131.0 263.9 L132.0 263.6 L133.0 263.8 L134.0 263.7 L135.0 263.9 L136.0 263.8 L137.0 263.8 L138.0 263.2 L139.7 263.5 L140.0 258.0 L140.3 266.0 L140.6 263.5 L141.0 263.5 L142.0 263.7 L143.0 263.5 L144.0 263.7 L145.0 263.4 L146.0 263.9 L147.0 263.6 L148.0 263.3 L149.0 263.2 L150.0 263.1 L151.0 263.5 L152.0 263.1 L153.0 263.5 L154.0 263.1 L155.0 263.5 L156.0 263.5 L157.0 263.5 L158.0 263.9 L159.0 263.0 L160.0 263.8 L161.0 263.5 L162.0 263.6 L163.0 263.7 L164.0 263.8 L165.0 263.4 L166.0 263.4 L167.0 264.0 L168.0 263.1 L169.0 263.6 L170.0 263.6 L171.0 263.0 L172.0 263.5 L172.2 263.5 L172.5 251.0 L172.8 273.0 L173.1 263.5 L173.5 263.8 L174.5 263.9 L175.5 264.0 L176.5 264.2 L177.5 263.6 L178.5 264.3 L179.5 263.8 L180.5 263.8 L181.5 264.2 L182.5 263.3 L183.5 264.0 L184.5 263.9 L185.5 263.6 L186.5 264.2 L187.5 263.7 L188.5 263.8 L189.5 263.8 L190.5 264.1 L191.5 263.5 L192.5 263.7 L193.5 263.7 L194.5 263.9 L195.5 264.1 L196.5 263.6 L197.5 264.1 L198.5 263.7 L199.5 263.8 L200.5 263.6 L201.5 263.8 L202.5 264.3 L203.5 264.0 L204.5 264.1 L205.5 263.6 L206.5 263.6 L207.5 263.6 L208.5 263.9 L209.5 263.9 L210.5 264.1 L211.5 263.3 L212.5 264.0 L213.5 264.2 L214.5 263.8 L215.5 263.3 L216.5 263.6 L217.5 263.3 L218.5 263.5 L219.5 264.2 L220.5 263.9 L221.5 264.0 L222.5 264.1 L223.5 264.2 L224.5 263.9 L225.5 263.9 L226.5 263.9 L227.5 264.0 L228.5 263.9 L229.5 264.0 L230.5 263.5 L231.5 264.0 L232.5 263.8 L233.5 264.1 L234.5 263.4 L235.5 263.5 L236.5 263.3 L237.5 264.1 L238.5 264.2 L239.5 264.0 L240.5 263.7 L241.5 264.1 L242.5 264.1 L243.5 263.8 L243.7 263.5 L244.0 250.0 L244.3 273.0 L244.6 263.5 L245.0 263.8 L246.0 263.9 L247.0 263.6 L248.0 263.6 L249.0 263.7 L250.0 263.6 L251.0 263.7 L252.0 263.9 L253.0 264.2 L254.0 263.4 L255.0 263.9 L256.0 263.3 L257.0 263.4 L258.0 264.1 L259.0 263.9 L260.0 264.2 L261.0 263.7 L262.0 263.3 L263.0 263.7 L264.0 263.9 L265.0 264.2 L266.0 264.3 L267.0 263.8 L268.0 263.7 L269.0 263.4 L270.0 263.9 L271.0 263.5 L272.0 263.8 L273.0 265.6 L274.0 268.0 L275.0 266.0 L276.0 264.5 L277.0 263.7 L278.0 262.0 L279.0 260.9 L280.0 261.0 L281.0 259.3 L282.0 259.0 L283.0 259.6 L284.0 259.1 L285.0 259.3 L286.0 260.2 L287.0 260.0 L288.0 260.7 L289.0 260.4 L290.0 261.0 L291.0 260.9 L292.0 261.9 L293.0 262.1 L294.0 262.6 L295.0 262.5 L296.0 262.9 L297.0 262.4 L298.7 263.0 L299.0 250.0 L299.5 263.0 L300.0 263.5 L301.0 263.6 L302.0 263.7 L303.0 263.5 L304.0 263.9 L305.0 263.3 L306.0 264.0 L307.0 263.7 L308.0 263.0 L309.0 263.0 L310.0 263.7 L311.5 263.5 L311.7 263.5 L312.0 249.0 L312.3 273.0 L312.6 263.5 L313.0 263.5 L314.0 263.8 L315.0 263.1 L316.0 263.3 L317.0 263.7 L318.0 263.2 L319.0 263.9 L320.0 263.5 L321.0 263.1 L322.0 263.4 L323.0 263.6 L324.0 263.4 L325.0 263.7 L326.0 263.1 L327.0 263.8 L328.0 263.4 L329.0 263.6 L330.0 263.6 L331.0 263.4 L332.0 263.4 L333.0 263.8 L334.0 263.9 L335.0 263.5 L335.5 255.0 L336.0 263.5 L336.5 263.5 L337.5 264.1 L338.5 263.7 L339.5 262.6 L340.5 263.9 L341.5 263.2 L342.5 264.5 L343.5 263.8 L344.5 263.4 L345.5 263.3 L346.5 263.8 L347.5 264.2 L348.5 262.6 L349.5 263.5 L350.5 264.3 L351.5 262.7 L352.5 264.3 L353.5 263.8 L354.5 264.4 L355.5 264.0 L356.5 263.4 L356.8 259.2 L357.1 263.4 L357.5 264.3 L358.5 264.2 L359.5 263.2 L360.5 264.1 L361.5 263.1 L362.5 264.2 L363.5 263.7 L363.8 258.4 L364.1 263.7 L364.5 264.3 L365.5 263.9 L366.5 264.5 L367.5 263.7 L368.5 263.2 L369.5 263.2 L370.5 263.5 L371.5 263.6 L372.5 263.1 L372.8 257.1 L373.1 263.1 L373.5 263.6 L373.8 259.0 L374.1 263.6 L374.5 264.4 L375.5 264.0 L376.5 263.9 L376.8 261.8 L377.1 263.9 L377.5 264.8 L378.5 263.8 L379.5 263.4 L380.5 263.7 L381.5 264.4 L382.5 264.8 L383.5 263.0 L384.5 263.3 L384.8 261.1 L385.1 263.3 L385.5 264.1 L386.5 263.9 L387.5 264.8 L387.8 260.4 L388.1 264.8 L388.5 263.8 L388.8 257.9 L389.1 263.8 L389.5 263.5 L390.5 264.3 L391.5 264.3 L392.5 264.0 L392.7 264.0 L393.0 251.0 L393.3 273.0 L393.6 264.0 L394.0 264.0 L395.0 263.9 L396.0 264.9 L397.0 263.4 L397.3 260.4 L397.6 263.4 L398.0 263.7 L399.0 264.8 L400.0 263.1 L401.0 264.4 L402.0 265.0 L402.3 262.4 L402.6 265.0 L403.0 264.5 L404.0 264.4 L405.0 264.2 L406.0 263.2 L407.0 263.5 L407.3 259.6 L407.6 263.5 L408.0 263.3 L409.0 263.3 L410.0 263.0 L411.0 263.4 L411.3 257.7 L411.6 263.4 L412.0 263.4 L413.0 264.7 L414.0 263.3 L415.0 263.2 L416.0 264.7 L417.0 263.9 L418.0 264.0 L419.0 265.6 L420.0 266.0 L421.0 264.9 L422.0 262.8 L422.3 257.9 L422.6 262.8 L423.0 262.0 L424.0 261.4 L425.0 261.2 L426.0 259.6 L427.0 259.0 L428.0 258.5 L429.7 259.0 L430.0 241.0 L430.5 260.0 L431.0 260.0 L432.0 260.0 L433.7 261.0 L434.0 250.0 L434.5 261.0 L435.0 261.0 L436.0 261.2 L437.0 262.2 L437.3 256.3 L437.6 262.2 L438.0 260.7 L439.0 262.1 L440.0 262.0 L441.0 261.8 L442.0 261.1 L443.0 261.1 L444.0 262.2 L445.0 260.2 L446.0 261.6 L446.3 256.7 L446.6 261.6 L447.0 260.2 L448.0 259.4 L449.0 259.9 L450.0 260.0 L451.0 260.8 L452.0 263.5 L453.0 263.6 L454.0 263.5 L455.0 263.1 L456.0 263.0 L457.0 264.3 L458.0 263.2 L458.3 260.8 L458.6 263.2 L459.0 264.0 L460.0 263.4 L461.0 264.1 L462.0 264.6 L463.0 264.0 L463.2 264.0 L463.5 249.0 L463.8 273.0 L464.1 264.0 L464.5 264.0 L465.5 263.4 L465.8 258.5 L466.1 263.4 L466.5 263.8 L467.5 263.1 L468.5 263.7 L469.5 264.7 L470.5 263.0 L471.5 264.0 L472.5 263.5 L473.5 264.7 L474.5 263.3 L475.5 264.2 L475.8 260.1 L476.1 264.2 L476.5 263.9 L477.5 263.2 L478.5 264.6 L479.5 263.6 L480.5 263.8 L481.5 263.1 L482.5 264.9 L483.5 264.0 L484.5 264.1 L484.8 258.2 L485.1 264.1 L485.5 263.4 L486.5 263.2 L487.5 264.6 L487.8 262.2 L488.1 264.6 L488.5 264.4 L489.5 263.0 L490.5 264.2 L491.5 264.4 L491.8 258.9 L492.1 264.4 L492.5 264.4 L492.8 261.9 L493.1 264.4 L494.0 264.0 L495.0 266.0 L496.0 268.0 L497.0 266.1 L497.3 262.4 L497.6 266.1 L498.0 264.3 L499.0 264.2 L500.0 262.0 L501.0 261.1 L502.0 259.3 L503.0 259.0 L504.0 259.9 L505.2 259.0 L505.5 246.0 L506.0 259.0 L507.7 259.0 L508.0 250.0 L508.5 260.0 L509.0 260.0 L510.0 260.5 L511.0 261.4 L512.0 262.0 L513.0 263.1 L514.0 262.1 L515.0 262.2 L516.0 263.7 L517.0 263.8 L518.0 263.8 L518.3 259.8 L518.6 263.8 L519.0 264.2 L520.0 263.5 L521.0 263.0 L522.0 263.9 L523.0 263.7 L523.3 260.0 L523.6 263.7 L524.0 263.7 L524.3 261.1 L524.6 263.7 L525.0 264.7 L526.0 264.7 L527.0 264.4 L528.0 264.6 L528.3 258.3 L528.6 265.1 L529.0 263.5 L529.3 266.7 L529.6 263.5 L530.7 264.0 L531.0 254.0 L531.5 264.0 L532.0 264.0 L533.0 264.1 L534.0 264.2 L534.3 257.6 L534.6 264.7 L535.7 264.0 L536.0 258.0 L536.4 264.0 L537.0 264.0 L538.0 263.9 L539.0 263.6 L539.3 258.4 L539.6 264.1 L540.0 263.1 L540.3 268.4 L540.6 263.1 L541.0 264.0 L541.3 257.3 L541.6 264.5 L542.0 264.1 L542.3 255.2 L542.6 264.6 L543.0 263.1 L543.3 256.9 L543.6 263.6 L544.0 263.5 L544.3 255.0 L544.6 264.0 L545.0 264.1 L546.0 264.3 L546.3 267.6 L546.6 264.3 L547.0 264.0 L547.2 264.0 L547.5 249.0 L547.8 273.0 L548.1 264.0 L548.5 264.0 L549.5 263.3 L549.8 267.2 L550.1 263.3 L550.5 264.1 L550.8 267.2 L551.1 264.1 L551.5 263.5 L551.8 255.8 L552.1 264.0 L552.5 264.0 L552.8 258.0 L553.1 264.5 L553.5 262.8 L553.8 259.7 L554.1 263.3 L554.5 263.4 L554.8 267.2 L555.1 263.4 L555.5 263.5 L556.5 263.5 L557.5 263.2 L557.8 259.7 L558.1 263.7 L558.5 263.9 L558.8 256.8 L559.1 264.4 L559.5 263.9 L559.8 266.3 L560.1 263.9 L560.5 263.3 L561.5 264.6 L561.8 256.5 L562.1 265.1 L562.5 263.6 L562.8 267.5 L563.1 263.6 L563.5 264.8 L564.5 264.0 L564.8 267.9 L565.1 264.0 L565.5 264.6 L565.8 259.2 L566.1 265.1 L566.5 264.5 L567.5 263.1 L568.5 262.8 L569.5 264.2 L569.8 260.3 L570.1 264.7 L570.5 264.2 L570.8 259.2 L571.1 264.7 L571.5 264.9 L571.8 266.9 L572.1 264.9 L572.5 263.9 L572.8 258.8 L573.1 264.4 L573.5 263.5 L573.8 257.8 L574.1 264.0 L574.5 263.7 L574.8 259.2 L575.1 264.2 L575.5 264.8 L575.8 257.2 L576.1 265.3 L576.5 263.2 L576.8 255.4 L577.1 263.7 L577.5 264.2 L577.8 266.2 L578.1 264.2 L578.5 265.0 L578.8 259.6 L579.1 265.5 L579.5 264.8 L580.5 263.3 L580.8 260.0 L581.1 263.8 L581.5 262.8 L581.8 257.9 L582.1 263.3 L582.5 264.0 L583.5 264.7 L583.8 268.5 L584.1 264.7 L584.5 264.0 L584.8 267.7 L585.1 264.0 L585.5 263.7 L585.8 258.1 L586.1 264.2 L586.5 263.6 L587.5 264.4 L587.8 266.2 L588.1 264.4 L588.5 263.7 L588.8 257.9 L589.1 264.2 L589.5 264.2 L590.5 265.1 L590.8 257.1 L591.1 265.6 L591.5 264.3 L592.5 263.6 L592.8 268.0 L593.1 263.6 L593.5 263.2 L593.8 260.4 L594.1 263.7 L594.5 264.8 L594.8 266.3 L595.1 264.8 L595.5 264.9 L595.8 268.1 L596.1 264.9 L596.5 265.2 L597.5 263.8 L597.8 256.2 L598.1 264.3 L598.5 264.0 L598.8 266.5 L599.1 264.0 L599.5 263.2 L599.8 267.5 L600.1 263.2 L600.5 263.6 L601.5 264.3 L601.8 257.0 L602.1 264.8 L602.5 264.7 L602.8 258.6 L603.1 265.2 L603.5 262.8 L603.8 259.6 L604.1 263.3 L604.5 264.2 L604.8 266.5 L605.1 264.2 L605.5 264.0 L605.7 264.0 L606.0 250.5 L606.3 273.0 L606.6 264.0 L607.0 264.0 L608.0 264.0 L608.3 266.7 L608.6 264.0 L609.0 264.4 L609.3 268.5 L609.6 264.4 L610.0 264.2 L610.3 255.2 L610.6 264.7 L611.0 263.2 L612.0 263.1 L612.3 255.5 L612.6 263.6 L613.0 264.1 L614.0 264.3 L615.0 262.9 L615.3 259.1 L615.6 263.4 L616.0 263.6 L616.3 266.9 L616.6 263.6 L617.0 263.2 L617.3 255.1 L617.6 263.7 L618.0 265.0 L618.3 266.9 L618.6 265.0 L619.0 263.9 L619.3 254.8 L619.6 264.4 L620.0 264.9 L620.3 268.4 L620.6 264.9 L621.0 263.9 L621.3 266.6 L621.6 263.9 L622.0 262.9 L623.0 264.9 L623.3 259.9 L623.6 265.4 L624.0 264.8 L624.3 258.1 L624.6 265.3 L625.0 265.1 L625.3 260.2 L625.6 265.6 L626.0 263.4 L626.3 258.8 L626.6 263.9 L627.0 263.3 L627.3 259.8 L627.6 263.8 L628.0 264.0 L629.0 263.4 L629.3 256.7 L629.6 263.9 L630.0 263.2 L631.0 263.5 L631.3 266.3 L631.6 263.5 L632.0 264.1 L632.3 256.9 L632.6 264.6 L633.0 263.0 L633.3 259.5 L633.6 263.5 L634.0 263.6 L634.3 255.6 L634.6 264.1 L635.0 263.5 L635.3 254.7 L635.6 264.0 L636.0 264.4 L636.3 255.4 L636.6 264.9 L637.0 264.5 L637.3 256.1 L637.6 265.0 L638.0 264.8 L638.3 257.2 L638.6 265.3 L639.0 264.8 L640.0 263.2 L640.3 258.8 L640.6 263.7 L641.0 263.7 L642.0 263.3 L643.0 264.0 L643.3 257.2 L643.6 264.5 L644.0 263.1 L644.3 266.7 L644.6 263.1 L645.0 265.0 L645.3 266.9 L645.6 265.0 L646.0 263.4 L646.3 266.5 L646.6 263.4 L647.0 264.9 L647.3 257.6 L647.6 265.4 L648.0 264.1 L648.3 259.1 L648.6 264.6 L649.0 263.7 L649.3 267.4 L649.6 263.7 L650.0 263.5 L650.3 255.0 L650.6 264.0 L651.0 263.2 L652.0 263.6 L652.3 266.3 L652.6 263.6 L653.0 264.1 L653.3 257.5 L653.6 264.6 L654.0 263.5 L654.3 256.4 L654.6 264.0 L655.0 263.3 L655.3 258.8 L655.6 263.8 L656.0 263.5 L656.3 260.0 L656.6 264.0 L657.0 264.7 L658.5 264.0 L658.7 264.0 L659.0 253.0 L659.3 272.0 L659.6 264.0 L660.0 264.0 L661.0 264.9 L661.3 256.2 L661.6 265.4 L662.0 262.9 L662.3 267.7 L662.6 262.9 L663.0 263.6 L663.3 258.5 L663.6 264.1 L664.0 264.5 L664.3 259.6 L664.6 265.0 L665.0 263.6 L665.3 266.5 L665.6 263.6 L666.0 263.1 L667.0 264.6 L667.3 266.1 L667.6 264.6 L668.0 262.9 L668.3 255.7 L668.6 263.4 L669.0 263.5 L669.3 254.7 L669.6 264.0 L670.0 263.5 L670.3 266.4 L670.6 263.5 L671.0 264.8 L671.3 267.8 L671.6 264.8 L672.0 263.4 L672.3 258.6 L672.6 263.9 L673.0 263.6 L673.3 259.5 L673.6 264.1 L674.0 264.7 L674.3 254.8 L674.6 265.2 L675.0 264.8 L675.3 266.1 L675.6 264.8 L676.0 263.4 L676.3 259.2 L676.6 263.9 L677.5 264.0 L678.0 254.0 L678.0 267.0" fill="none" stroke="#00f" stroke-width="2.3" stroke-linejoin="miter" />
</g>
<path d="M32.5 158.8 V183.0 M29.0 178.0 L32.5 182.8 L36.0 178.0" fill="none" stroke="#10a64f" stroke-width="2.1" stroke-linecap="round" stroke-linejoin="round"/>
<path d="M113.0 158.3 V183.0 M109.5 178.0 L113.0 182.8 L116.5 178.0" fill="none" stroke="#10a64f" stroke-width="2.1" stroke-linecap="round" stroke-linejoin="round"/>
<path d="M174.0 158.8 V183.0 M170.5 178.0 L174.0 182.8 L177.5 178.0" fill="none" stroke="#10a64f" stroke-width="2.1" stroke-linecap="round" stroke-linejoin="round"/>
<path d="M245.0 157.8 V182.5 M241.5 177.5 L245.0 182.3 L248.5 177.5" fill="none" stroke="#10a64f" stroke-width="2.1" stroke-linecap="round" stroke-linejoin="round"/>
<path d="M313.0 159.8 V184.0 M309.5 179.0 L313.0 183.8 L316.5 179.0" fill="none" stroke="#10a64f" stroke-width="2.1" stroke-linecap="round" stroke-linejoin="round"/>
<path d="M393.0 160.3 V184.5 M389.5 179.5 L393.0 184.3 L396.5 179.5" fill="none" stroke="#10a64f" stroke-width="2.1" stroke-linecap="round" stroke-linejoin="round"/>
<path d="M463.5 160.8 V185.0 M460.0 180.0 L463.5 184.8 L467.0 180.0" fill="none" stroke="#10a64f" stroke-width="2.1" stroke-linecap="round" stroke-linejoin="round"/>
<path d="M547.0 160.3 V184.5 M543.5 179.5 L547.0 184.3 L550.5 179.5" fill="none" stroke="#10a64f" stroke-width="2.1" stroke-linecap="round" stroke-linejoin="round"/>
<path d="M609.5 161.3 V186.0 M606.0 181.0 L609.5 185.8 L613.0 181.0" fill="none" stroke="#10a64f" stroke-width="2.1" stroke-linecap="round" stroke-linejoin="round"/>
<path d="M662.0 160.3 V184.5 M658.5 179.5 L662.0 184.3 L665.5 179.5" fill="none" stroke="#10a64f" stroke-width="2.1" stroke-linecap="round" stroke-linejoin="round"/>
<text x="6.3" y="19.2" font-size="24" fill="#000" textLength="15.8" lengthAdjust="spacingAndGlyphs" >A</text>
<text x="6.8" y="313.8" font-size="22" fill="#000" textLength="12.5" lengthAdjust="spacingAndGlyphs" >B</text>
<text x="176.6" y="314.2" font-size="20.5" fill="#000" textLength="15.0" lengthAdjust="spacingAndGlyphs" >C</text>
<text x="321.8" y="313.3" font-size="21.5" fill="#000" textLength="15.0" lengthAdjust="spacingAndGlyphs" >D</text>
<text x="503.8" y="313.3" font-size="20.8" fill="#000" textLength="12.5" lengthAdjust="spacingAndGlyphs" >E</text>
<text x="9.2" y="455.6" font-size="22" fill="#000" textLength="10.8" lengthAdjust="spacingAndGlyphs" >F</text>
<text x="58.3" y="20.6" font-size="17.8" fill="#f00" textLength="31.0" lengthAdjust="spacingAndGlyphs" >140</text>
<text x="261.2" y="20.6" font-size="17.8" fill="#f00" textLength="31.0" lengthAdjust="spacingAndGlyphs" >140</text>
<text x="405.3" y="20.6" font-size="17.8" fill="#f00" textLength="31.0" lengthAdjust="spacingAndGlyphs" >140</text>
<text x="483.5" y="20.6" font-size="17.8" fill="#f00" textLength="31.0" lengthAdjust="spacingAndGlyphs" >140</text>
<text x="142.0" y="231.0" font-size="17" fill="#f00" textLength="19.0" lengthAdjust="spacingAndGlyphs" >10</text>
<text x="183.0" y="210.0" font-size="17" fill="#f00" textLength="20.0" lengthAdjust="spacingAndGlyphs" >50</text>
<text x="345.0" y="232.0" font-size="17" fill="#f00" textLength="19.0" lengthAdjust="spacingAndGlyphs" >10</text>
<text x="572.0" y="222.0" font-size="17" fill="#f00" textLength="20.0" lengthAdjust="spacingAndGlyphs" >50</text>
<text x="623.0" y="233.0" font-size="17" fill="#f00" textLength="19.0" lengthAdjust="spacingAndGlyphs" >10</text>
<path d="M604.7 85 V103.7 H646.7" fill="none" stroke="#000" stroke-width="1.6"/>
<text x="596.8" y="109.5" font-size="15" fill="#000" textLength="28.5" lengthAdjust="spacingAndGlyphs" transform="rotate(-90 596.8 109.5)" >1 nA</text>
<text x="609.8" y="123.5" font-size="14" fill="#000" textLength="32.0" lengthAdjust="spacingAndGlyphs" >200 s</text>
<g filter="url(#bl)">
<path d="M12.8 343 V388" stroke="#555" stroke-width="1"/>
<path d="M12.8 386.5 V390" stroke="#f44" stroke-width="1"/>
<path d="M12.8 390 V416" stroke="#55f" stroke-width="1"/>
<path d="M3.5 407.0 L4.1 409.5 L4.7 406.0 L5.3 406.7 L5.9 407.8 L6.5 406.0 L7.1 406.8 L7.7 407.5 L8.3 407.8 L8.9 406.9 L9.5 408.2 L10.1 407.0 L10.7 406.1 L11.3 405.9 L11.9 407.7 L12.5 407.1 L13.1 407.3 L13.7 406.4 L14.3 406.1 L14.9 406.3 L16.0 407.0 L16.6 404.3 L17.2 403.8 L18.0 401.0 L18.6 394.1 L19.2 390.1 L20.0 383.0 L20.6 376.6 L21.2 371.9 L21.8 365.4 L22.5 358.0 L23.1 356.6 L23.7 354.3 L24.7 350.0 L25.3 350.0 L25.9 347.8 L27.0 346.0 L27.6 346.2 L28.2 343.5 L29.0 344.0 L29.6 343.6 L30.2 343.3 L31.0 345.0 L31.6 346.4 L32.2 344.5 L32.8 345.5 L33.4 345.0 L34.0 346.0 L34.6 346.4 L35.2 353.2 L36.0 357.0 L36.6 359.1 L37.2 358.7 L37.8 359.2 L38.4 359.3 L39.0 359.6 L40.0 362.0 L40.6 362.9 L41.2 364.2 L41.8 363.2 L42.4 362.2 L43.0 366.6 L43.6 365.1 L44.2 367.0 L45.0 367.0 L45.6 368.7 L46.2 370.1 L46.8 369.7 L47.4 369.1 L48.0 370.2 L48.6 371.4 L49.2 372.8 L50.0 373.0 L50.6 370.7 L51.2 374.3 L51.8 375.0 L52.4 376.1 L53.0 375.5 L53.6 374.8 L54.2 375.5 L54.8 376.2 L55.4 378.6 L56.0 378.0 L56.6 375.7 L57.2 378.3 L57.8 378.3 L58.4 380.9 L59.0 380.3 L59.6 381.4 L60.2 381.3 L60.8 381.9 L61.4 383.3 L62.0 383.0 L62.6 382.7 L63.2 383.8 L63.8 384.1 L64.4 382.4 L65.0 385.3 L65.6 386.9 L66.2 387.5 L67.0 387.0 L67.6 387.6 L68.2 386.5 L68.8 388.2 L69.4 388.4 L70.0 388.5 L70.6 388.3 L71.2 390.0 L71.8 387.5 L72.4 389.6 L73.0 390.0 L73.6 391.3 L74.2 390.8 L74.8 391.0 L75.4 391.0 L76.0 389.6 L76.6 391.9 L77.2 394.3 L77.8 391.4 L78.4 392.1 L79.0 393.0 L79.6 393.2 L80.2 393.5 L80.8 393.2 L81.4 392.2 L82.0 392.2 L82.6 394.2 L83.2 393.9 L83.8 392.5 L84.4 394.0 L85.0 393.5 L85.6 395.9 L86.2 393.5 L86.8 394.8 L87.4 394.1 L88.0 394.3 L89.0 396.0 L89.6 395.4 L90.2 396.9 L90.8 395.4 L91.4 396.6 L92.0 397.2 L92.6 397.3 L93.2 398.2 L93.8 399.0 L94.4 398.3 L95.0 398.7 L95.6 397.3 L96.2 399.3 L97.0 398.5 L97.6 397.3 L98.2 397.4 L98.8 399.0 L99.4 400.7 L100.3 398.0 L101.0 390.0 L101.8 397.0 L103.0 398.0 L103.0 398.0 L103.7 398.4 L104.4 398.1 L105.1 398.2 L105.8 398.6 L107.0 399.0 L107.7 399.0 L108.0 396.5 L108.5 400.0 L108.5 400.0 L109.2 400.9 L109.9 401.3 L110.6 401.4 L111.3 401.9 L112.0 403.0 L112.7 402.7 L113.4 403.6 L114.1 403.1 L114.8 403.6 L115.5 403.4 L116.2 404.0 L116.9 403.8 L117.6 403.7 L118.3 404.6 L119.0 404.4 L120.0 404.5 L120.7 404.7 L121.4 404.8 L122.1 404.9 L123.3 404.5 L123.7 390.0 L124.1 404.5 L124.1 404.5 L124.8 404.1 L126.0 404.5 L126.7 404.0 L127.4 403.4 L128.1 403.2 L128.8 403.1 L129.5 402.6 L130.2 401.6 L131.0 401.5 L131.7 401.7 L132.4 402.6 L133.1 403.0 L133.8 403.2 L135.0 404.0 L135.7 404.3 L136.4 404.3 L137.1 405.1 L137.8 405.0 L138.5 405.7 L139.2 405.8 L140.0 406.0 L140.7 405.8 L141.4 406.1 L142.1 406.1 L142.8 406.7 L143.5 406.6 L144.2 406.3 L144.9 406.5 L145.6 406.7 L146.3 406.9 L147.0 407.1 L147.7 407.1 L148.4 407.1 L149.1 407.0 L150.0 407.5 L150.7 407.6 L151.4 407.4 L152.1 407.2 L152.8 407.6 L153.5 408.1 L154.2 407.4 L154.9 407.5 L155.6 407.9 L156.3 407.6 L157.0 407.7 L157.7 407.9 L158.4 407.7 L159.6 408.0" fill="none" stroke="#111" stroke-width="1.25" stroke-linejoin="miter" />
<path d="M3.5 406.5 L4.5 406.5 L5.5 406.5 L6.5 406.8 L7.5 406.8 L8.5 406.2 L9.5 406.5 L10.5 406.7 L11.5 406.7 L12.5 406.7 L13.5 406.6 L14.5 406.6 L15.5 406.4 L16.5 406.4 L18.0 406.5 L19.0 406.3 L20.0 405.9 L21.0 405.6 L22.0 405.1 L23.0 404.4 L24.0 404.3 L25.0 403.9 L26.0 403.4 L27.0 403.0 L28.0 402.9 L29.0 402.5 L30.0 402.4 L31.0 402.1 L32.0 401.6 L33.0 401.6 L34.0 401.3 L35.0 401.5 L36.0 401.0 L37.0 400.9 L38.0 400.8 L39.0 400.7 L40.0 400.6 L41.0 400.6 L42.0 400.4 L43.0 400.3 L44.0 400.8 L45.0 400.5 L46.0 400.5 L47.0 400.5 L48.0 400.5 L49.0 400.4 L50.0 400.3 L51.0 400.2 L52.0 400.4 L53.0 400.4 L54.0 400.6 L55.0 400.5 L56.0 400.5 L57.0 401.0 L58.0 400.9 L59.0 401.5 L60.0 401.6 L61.0 401.5 L62.0 402.0 L63.0 402.1 L64.0 402.7 L65.0 403.3 L66.0 403.2 L67.0 403.8 L68.0 404.0 L69.0 404.0 L70.0 404.3 L71.0 403.9 L72.0 404.2 L73.0 404.5 L74.0 404.1 L75.0 404.2 L76.0 404.1 L77.0 404.2 L78.0 404.3 L79.0 404.5 L80.0 404.7 L81.0 404.4 L82.0 404.6 L83.0 404.5 L84.0 404.8 L85.0 405.0 L86.0 404.9 L87.0 404.7 L88.0 405.0 L89.0 405.2 L90.0 405.0 L91.0 405.1 L92.0 404.8 L93.0 405.2 L94.0 405.3 L95.0 405.0 L96.0 404.9 L97.0 404.9 L98.0 405.1 L99.0 405.4 L100.0 405.2 L101.0 405.4 L102.0 405.0 L103.0 405.1 L104.0 405.3 L105.0 405.3 L106.0 405.2 L107.0 405.4 L108.0 405.2 L109.0 405.0 L110.0 405.2 L111.0 405.0 L112.0 405.4 L113.0 405.2 L114.0 405.3 L115.0 405.4 L116.0 405.2 L117.0 405.4 L118.0 405.1 L119.0 405.7 L120.0 405.5 L121.0 405.7 L122.0 405.2 L123.0 405.5 L124.0 405.6 L125.0 405.5 L126.0 405.4 L127.0 405.3 L128.0 405.4 L129.0 405.4 L130.0 405.8 L131.0 405.5 L132.0 405.9 L133.0 405.7 L134.0 405.8 L135.0 405.9 L136.0 405.9 L137.0 406.0 L138.0 406.0 L139.0 405.9 L140.0 406.0 L141.0 406.2 L142.0 406.1 L143.0 406.4 L144.0 406.6 L145.0 406.7 L146.0 406.5 L147.0 406.9 L148.0 407.1 L149.0 406.9 L150.0 407.0 L151.0 407.0 L152.0 407.2 L153.0 407.6 L154.0 407.2 L155.0 407.2 L156.0 407.6 L157.0 407.8 L158.0 408.0 L159.6 408.0" fill="none" stroke="#f22" stroke-width="1.6" stroke-linejoin="miter" />
<path d="M3.5 408.0 L4.5 407.9 L5.5 408.3 L6.5 407.9 L7.5 408.2 L8.5 407.8 L9.5 407.8 L10.5 407.8 L11.5 407.8 L12.5 408.1 L13.5 408.1 L14.5 407.9 L15.5 408.3 L16.5 408.0 L17.5 407.9 L18.5 407.9 L19.5 408.2 L20.5 408.4 L21.5 407.9 L22.5 407.8 L23.5 408.3 L24.5 408.0 L25.5 408.4 L26.5 408.1 L27.5 408.2 L28.5 408.1 L29.5 408.3 L30.5 408.1 L31.5 408.1 L32.5 408.4 L33.5 407.9 L34.5 408.3 L35.5 407.9 L36.5 408.3 L37.5 408.1 L38.5 408.4 L39.5 407.9 L40.5 408.3 L41.5 408.2 L42.5 408.5 L43.5 408.5 L44.5 408.3 L45.5 408.1 L46.5 408.1 L47.5 408.1 L48.5 408.2 L49.5 408.1 L50.5 408.1 L51.5 408.4 L52.5 408.4 L53.5 408.2 L54.5 408.6 L55.5 408.1 L56.5 408.3 L57.5 408.1 L58.5 408.5 L59.5 408.5 L60.5 408.2 L61.5 408.5 L62.5 408.5 L63.5 408.2 L64.5 408.3 L65.5 408.3 L66.5 408.6 L67.5 408.2 L68.5 408.5 L69.5 408.4 L70.5 408.4 L71.5 408.4 L72.5 408.6 L73.5 408.2 L74.5 408.6 L75.5 408.3 L76.5 408.6 L77.5 408.6 L78.5 408.2 L79.5 408.7 L80.5 408.7 L81.5 408.3 L82.5 408.2 L83.5 408.2 L84.5 408.8 L85.5 408.2 L86.5 408.7 L87.5 408.3 L88.5 408.6 L90.0 408.5 L91.0 408.3 L92.0 408.4 L93.0 408.7 L94.0 408.4 L95.0 408.5 L96.0 408.9 L97.0 408.8 L98.0 408.9 L99.0 409.0 L100.0 408.5 L101.0 408.6 L102.0 409.0 L103.0 408.9 L104.0 408.6 L105.0 408.9 L106.0 408.7 L107.0 408.9 L108.0 408.7 L109.0 408.7 L110.0 409.0 L111.0 409.3 L112.0 409.0 L113.0 409.3 L114.0 408.9 L115.0 409.2 L116.0 409.0 L117.0 409.2 L118.0 409.1 L119.0 409.4 L120.0 409.1 L121.0 409.5 L122.0 409.4 L123.0 409.2 L124.0 409.4 L125.0 409.5 L126.0 409.2 L127.0 409.3 L128.0 408.7 L129.0 408.5 L130.0 408.7 L131.0 409.4 L132.0 409.7 L133.0 410.0 L134.0 410.0 L135.0 410.5 L136.0 410.3 L137.0 410.3 L138.0 410.2 L139.0 410.1 L140.0 410.4 L141.0 410.3 L142.0 410.4 L143.0 410.3 L144.0 410.0 L145.0 410.4 L146.0 410.4 L147.0 410.3 L148.0 410.3 L149.0 410.3 L150.0 410.5 L151.0 410.4 L152.0 410.3 L153.0 410.1 L154.0 410.0 L155.0 410.0 L156.0 410.4 L157.0 410.0 L158.0 410.0 L159.6 410.0" fill="none" stroke="#44f" stroke-width="1.6" stroke-linejoin="miter" />
</g>
<path d="M12.8 329.1 V338.8 M10.0 335.0 L12.8 338.6 L15.6 335.0" fill="none" stroke="#10a64f" stroke-width="1.6" stroke-linecap="round" stroke-linejoin="round"/>
<path d="M107 341.8 V376.6 H124.5" fill="none" stroke="#111" stroke-width="1.8"/>
<text x="99.8" y="370.8" font-size="12.5" fill="#222" textLength="23.5" lengthAdjust="spacingAndGlyphs" transform="rotate(-90 99.8 370.8)" >1 nA</text>
<text x="107.0" y="389.0" font-size="12.5" fill="#222" textLength="21.5" lengthAdjust="spacingAndGlyphs" >20 s</text>
<g filter="url(#bl)">
<path d="M190.0 404.9 L190.4 410.1 L190.8 405.5 L191.2 410.5 L191.6 405.1 L192.0 407.7 L192.4 404.8 L192.8 408.7 L193.2 404.9 L193.6 409.8 L194.0 404.7 L194.4 410.2 L194.8 405.3 L195.2 408.1 L195.6 405.4 L196.0 410.4 L196.4 405.2 L196.8 409.5 L197.2 405.1 L197.6 408.9 L198.0 404.8 L198.4 407.6 L198.8 404.5 L199.2 408.3 L199.6 405.4 L200.0 409.0 L200.4 405.1 L200.8 407.5 L201.2 404.7 L201.6 408.6 L202.0 405.2 L202.4 409.4 L202.8 405.2 L203.2 409.3 L203.6 405.0 L204.0 408.7 L204.4 405.2 L204.8 409.5 L205.2 405.1 L205.6 408.9 L206.0 404.7 L206.4 408.7 L206.8 404.8 L207.2 407.8 L207.6 405.0 L208.0 408.3 L208.4 405.0 L208.8 409.1 L209.2 404.7 L209.6 410.1 L210.0 405.4 L210.4 408.9 L210.8 405.0 L211.2 408.9 L211.6 405.3 L212.0 409.8 L212.4 404.7 L212.8 408.0 L213.2 405.0 L213.6 408.6 L214.0 405.3 L214.4 407.8 L214.8 405.4 L215.2 410.4 L215.6 404.9 L216.0 408.0 L216.4 405.3 L216.8 410.1 L217.2 404.7 L217.6 409.7 L218.0 404.6 L218.4 409.4 L218.8 405.3 L219.2 408.9 L219.6 405.0 L220.0 410.2 L220.4 404.9 L220.8 407.5 L221.2 405.2 L221.6 409.2 L222.0 405.0 L222.4 408.1 L222.8 405.3 L223.2 410.1 L223.6 405.2 L224.0 409.4 L224.4 405.0 L224.8 409.8 L225.2 404.9 L225.6 409.5 L226.0 404.9 L226.4 410.4 L226.8 404.7 L227.2 408.8 L227.6 404.6 L228.0 410.0 L228.4 405.2 L228.8 409.7 L229.2 404.8 L229.6 409.8 L230.0 405.3 L230.4 410.2 L230.8 405.1 L231.2 407.9 L231.6 404.7 L232.0 409.2 L232.4 405.3 L232.8 408.6 L233.2 404.9 L233.6 410.4 L234.0 404.9 L234.4 409.4 L234.8 405.2 L235.2 409.6 L235.6 404.9 L236.0 408.6 L236.4 405.3 L236.8 409.4 L237.2 404.9 L237.6 408.8 L238.0 405.4 L238.4 409.9 L238.8 405.5 L239.2 408.4 L239.6 404.9 L240.0 408.5 L240.4 404.8 L240.8 410.3 L241.2 405.3 L241.6 409.4 L242.0 405.0 L242.4 409.0 L242.8 405.4 L243.2 408.2 L243.6 404.5 L244.0 408.7 L244.4 405.0 L244.8 409.1 L245.2 405.3 L245.6 409.3 L246.0 405.0 L246.4 407.8 L246.8 404.9 L247.2 409.0 L247.6 405.0 L248.0 408.0 L248.4 405.2 L248.8 408.3 L249.2 404.9 L249.6 410.4 L250.0 405.2 L250.4 408.8 L250.8 405.3 L251.2 408.2 L251.6 404.6 L252.0 409.8 L252.4 404.6 L252.8 408.0 L253.2 404.6 L253.6 410.2 L254.0 405.3 L254.4 408.8 L254.8 404.6 L255.2 408.5 L255.6 405.3 L256.0 409.1 L256.4 404.6 L256.8 408.5 L257.2 405.1 L257.6 408.9 L258.0 405.7 L258.4 408.3 L258.8 405.6 L259.2 410.3 L259.6 405.1 L260.0 409.3 L260.4 404.9 L260.8 407.9 L261.2 405.2 L261.6 410.2 L262.0 405.3 L262.4 410.2 L262.8 405.9 L263.2 409.4 L263.6 405.6 L264.0 409.8 L264.4 405.2 L264.8 410.2 L265.2 406.0 L265.6 408.8 L266.0 406.1 L266.4 410.5 L266.8 405.5 L267.2 411.2 L267.6 405.9 L268.0 410.2 L268.4 405.9 L268.8 410.0 L269.2 406.0 L269.6 410.4 L270.0 406.3 L270.4 410.9 L270.8 406.5 L271.2 410.0 L271.6 405.7 L272.0 410.8 L272.4 406.3 L272.8 410.6 L273.2 406.4 L273.6 410.9 L274.0 406.2 L274.4 409.6 L274.8 406.3 L275.2 409.9 L275.6 406.9 L276.0 410.3 L276.4 406.6 L276.8 409.4 L277.2 406.7 L277.6 409.6 L278.0 406.4 L278.4 411.0 L278.8 407.0 L279.2 412.3 L279.6 407.3 L280.0 412.3 L280.4 407.1 L280.8 412.0 L281.2 407.5 L281.6 411.0 L282.0 407.5 L282.4 411.2 L282.8 407.5 L283.2 410.8 L283.6 407.2 L284.0 412.3 L284.4 407.8 L284.8 412.5 L285.2 407.9 L285.6 412.4 L286.0 407.2 L286.4 412.8 L286.8 407.9 L287.2 410.3 L287.6 407.6 L288.0 411.2 L288.4 407.5 L288.8 410.6 L289.2 408.0 L289.6 412.9 L290.0 407.4 L290.4 411.3 L290.8 407.5 L291.2 410.9 L291.6 407.8 L292.0 412.8 L292.4 408.1 L292.8 412.6 L293.2 408.1 L293.6 413.2 L294.0 408.6 L294.4 412.7 L294.8 408.5 L295.2 413.3 L295.6 408.6 L296.0 410.8 L296.4 408.2 L296.8 413.7 L297.2 408.3 L297.6 412.0 L298.0 408.2 L298.4 412.3 L298.8 408.1" fill="none" stroke="#11f" stroke-width="1.2" stroke-linejoin="miter" />
<path d="M173.0 404.5 L173.4 407.5 L173.8 404.4 L174.2 407.6 L174.6 404.1 L175.0 407.2 L175.4 404.1 L175.8 407.0 L176.2 405.0 L176.6 406.9 L177.0 404.5 L177.4 408.7 L177.8 404.3 L178.2 407.4 L178.6 404.5 L179.0 406.9 L179.4 404.1 L179.8 408.2 L180.2 404.9 L180.6 407.9 L181.0 404.5 L181.4 409.3 L181.8 404.1 L182.2 408.8 L182.6 404.9 L183.0 407.2 L183.4 404.2 L183.8 407.0 L184.2 404.1 L184.6 408.0 L185.0 405.1 L185.4 408.8 L185.8 405.2 L186.2 408.1 L186.6 404.5 L187.0 409.1 L187.4 405.0 L187.8 409.5 L188.2 405.4 L188.6 409.8 L189.0 405.6 L189.4 409.6 L189.8 405.0 L190.2 409.0 L190.6 405.2 L191.0 409.1 L191.4 406.0 L191.8 409.2 L192.2 405.8 L192.6 410.8 L193.0 406.0 L193.4 410.8 L193.8 406.3 L194.2 410.8 L194.6 406.3 L195.0 410.4 L195.4 406.3 L195.8 409.6 L196.2 406.0 L196.6 410.6 L197.0 406.2 L197.4 409.5 L197.8 405.4 L198.2 407.4 L198.6 404.5 L199.0 408.8 L199.4 403.4 L199.8 406.1 L200.2 402.9 L200.6 406.6 L201.0 402.6 L201.4 407.0 L201.8 402.0 L202.2 406.2 L202.6 401.4 L203.0 404.7 L203.4 400.6 L203.8 404.9 L204.2 400.0 L204.6 404.3 L205.0 399.1 L205.4 403.6 L205.8 399.4 L206.2 402.4 L206.6 399.0 L207.0 403.3 L207.4 398.6 L207.8 401.6 L208.2 398.0 L208.6 400.9 L209.0 397.4 L209.4 401.4 L209.8 397.0 L210.2 401.1 L210.6 396.1 L211.0 401.0 L211.4 395.7 L211.8 399.2 L212.2 395.2 L212.6 397.9 L213.0 394.8 L213.4 398.5 L213.8 394.7 L214.2 398.2 L214.6 395.0 L215.0 397.6 L215.4 394.0 L215.8 398.6 L216.2 394.3 L216.6 396.4 L217.0 393.5 L217.4 397.1 L217.8 393.9 L218.2 396.3 L218.6 393.3 L219.0 396.1 L219.4 393.1 L219.8 395.5 L220.2 392.5 L220.6 395.4 L221.0 392.8 L221.4 396.8 L221.8 392.5 L222.2 397.2 L222.6 393.1 L223.0 395.9 L223.4 392.4 L223.8 396.8 L224.2 392.4 L224.6 397.2 L225.0 392.4 L225.4 396.8 L225.8 393.1 L226.2 394.9 L226.6 392.9 L227.0 396.2 L227.4 392.5 L227.8 395.4 L228.2 392.9 L228.6 395.5 L229.0 392.8 L229.4 397.2 L229.8 392.9 L230.2 395.5 L230.6 393.2 L231.0 397.7 L231.4 393.2 L231.8 397.1 L232.2 392.8 L232.6 395.5 L233.0 393.4 L233.4 396.2 L233.8 393.0 L234.2 396.1 L234.6 393.9 L235.0 396.0 L235.4 393.9 L235.8 396.4 L236.2 394.1 L236.6 397.3 L237.0 394.0 L237.4 396.9 L237.8 394.6 L238.2 397.0 L238.6 394.3 L239.0 397.0 L239.4 394.8 L239.8 397.3 L240.2 394.6 L240.6 397.4 L241.0 395.5 L241.4 399.6 L241.8 395.8 L242.2 399.9 L242.6 395.4 L243.0 399.6 L243.4 395.7 L243.8 399.7 L244.2 396.6 L244.6 399.5 L245.0 396.7 L245.4 400.6 L245.8 397.1 L246.2 399.7 L246.6 397.2 L247.0 399.6 L247.4 397.6 L247.8 401.3 L248.2 397.1 L248.6 400.9 L249.0 398.1 L249.4 402.0 L249.8 398.1 L250.2 400.8 L250.6 398.5 L251.0 403.3 L251.4 398.5 L251.8 403.5 L252.2 398.3 L252.6 401.6 L253.0 398.8 L253.4 402.4 L253.8 399.1 L254.2 403.3 L254.6 399.1 L255.0 403.5 L255.4 399.9 L255.8 402.9 L256.2 399.5 L256.6 404.5 L257.0 399.6 L257.4 402.9 L257.8 399.8 L258.2 403.1 L258.6 400.3 L259.0 404.7 L259.4 400.3 L259.8 405.1 L260.2 400.6 L260.6 404.8 L261.0 400.1 L261.4 402.8 L261.8 400.3 L262.2 404.9 L262.6 401.0 L263.0 404.0 L263.4 401.1 L263.8 404.7 L264.2 400.9 L264.6 403.3 L265.0 401.0 L265.4 403.3 L265.8 400.8 L266.2 403.9 L266.6 400.9 L267.0 404.9 L267.4 400.9 L267.8 406.0 L268.2 402.0 L268.6 405.4 L269.0 402.1 L269.4 406.3 L269.8 402.0 L270.2 407.0 L270.6 402.4 L271.0 405.1 L271.4 402.6 L271.8 406.7 L272.2 403.3 L272.6 405.6 L273.0 403.3 L273.4 408.1 L273.8 403.6 L274.2 407.3 L274.6 404.1 L275.0 407.7 L275.4 403.9 L275.8 407.1 L276.2 403.7 L276.6 407.5 L277.0 404.2 L277.4 406.6 L277.8 404.1 L278.2 408.2 L278.6 404.7 L279.0 409.2 L279.4 404.7 L279.8 407.6 L280.2 404.6 L280.6 408.4 L281.0 404.9 L281.4 407.3 L281.8 405.0 L282.2 407.8 L282.6 404.5 L283.0 409.1 L283.4 404.7 L283.8 407.5 L284.2 405.6 L284.6 409.9 L285.0 405.4 L285.4 408.8 L285.8 405.0 L286.2 409.5 L286.6 405.8 L287.0 408.9 L287.4 405.5 L287.8 408.7 L288.2 405.7 L288.6 409.4 L289.0 405.9 L289.4 408.4 L289.8 406.3 L290.2 409.0 L290.6 406.4 L291.0 410.3 L291.4 406.9 L291.8 409.5 L292.2 406.7 L292.6 410.8 L293.0 406.3 L293.4 410.1 L293.8 407.1 L294.2 409.6 L294.6 406.7 L295.0 411.5 L295.4 407.0 L295.8 409.6 L296.2 406.8 L296.6 410.1 L297.0 406.9 L297.4 411.4 L297.8 406.9 L298.2 411.6 L298.6 407.3 L299.0 409.8" fill="none" stroke="#f11" stroke-width="1.2" stroke-linejoin="miter" />
<path d="M184.8 372.0 L185.2 356.9 L185.5 372.0 L187.4 372.0 L187.8 354.6 L188.1 372.0 L190.0 372.0 L190.3 354.9 L190.7 372.0 L192.6 372.0 L192.9 356.8 L193.3 372.0" fill="none" stroke="#f11" stroke-width="1.8" stroke-linejoin="miter" />
<rect x="184.8" y="369" width="9" height="42.5" fill="#000"/>
<path d="M184.8 370.0 L185.1 363.2 L185.4 370.0 L185.8 370.0 L186.1 363.9 L186.4 370.0 L186.8 370.0 L187.1 364.6 L187.4 370.0 L187.8 370.0 L188.1 362.7 L188.4 370.0 L188.8 370.0 L189.1 363.6 L189.4 370.0 L189.8 370.0 L190.1 364.4 L190.4 370.0 L190.8 370.0 L191.1 364.3 L191.4 370.0 L191.8 370.0 L192.1 367.8 L192.4 370.0 L192.8 370.0 L193.1 363.6 L193.4 370.0 L193.8 370.0 L194.1 363.2 L194.4 370.0" fill="none" stroke="#000" stroke-width="0.8" stroke-linejoin="miter" />
<path d="M173.0 402.9 L173.4 405.2 L173.8 402.2 L174.2 406.7 L174.6 401.4 L175.0 404.7 L175.4 400.7 L175.8 403.4 L176.2 400.5 L176.6 405.8 L177.0 401.0 L177.4 405.7 L177.8 400.6 L178.2 407.7 L178.6 402.5 L179.0 406.3 L179.4 401.4 L179.8 405.2 L180.2 401.7 L180.6 404.8 L181.0 402.2 L181.4 406.3 L181.8 402.3 L182.2 407.0 L182.6 402.2 L183.0 405.7 L183.4 402.0 L183.8 407.8 L184.2 402.5" fill="none" stroke="#000" stroke-width="1.2" stroke-linejoin="miter" />
<path d="M194.0 410.7 L194.3 412.7 L194.7 409.1 L195.0 411.2 L195.4 408.2 L195.7 410.7 L196.1 409.5 L196.4 410.1 L196.8 408.3 L197.1 411.0 L197.5 407.8 L197.8 410.1 L198.2 407.6 L198.5 406.1 L198.9 406.6 L199.2 407.6 L199.6 407.8 L199.9 408.4 L200.3 403.9 L200.6 407.8 L201.0 403.8 L201.3 406.7 L201.7 401.8 L202.0 404.9 L202.4 402.9 L202.7 404.1 L203.1 401.1 L203.4 403.4 L203.8 398.0 L204.1 401.5 L204.5 398.6 L204.8 400.2 L205.2 399.1 L205.5 398.0 L205.9 397.5 L206.2 396.4 L206.6 394.7 L206.9 397.3 L207.3 394.8 L207.6 397.9 L208.0 394.7 L208.3 396.4 L208.7 392.8 L209.0 396.5 L209.4 393.0 L209.7 393.8 L210.1 393.3 L210.4 393.8 L210.8 386.4 L211.1 392.9 L211.5 391.4 L211.8 393.9 L212.2 391.7 L212.5 392.1 L212.9 390.9 L213.2 388.8 L213.6 388.5 L213.9 391.7 L214.3 389.8 L214.6 391.1 L215.0 387.1 L215.3 388.2 L215.7 386.9 L216.0 390.0 L216.4 389.2 L216.7 389.9 L217.1 388.7 L217.4 388.6 L217.8 388.0 L218.1 391.5 L218.5 388.4 L218.8 391.3 L219.2 385.7 L219.5 389.7 L219.9 387.4 L220.2 392.8 L220.6 387.0 L220.9 389.7 L221.3 387.4 L221.6 389.1 L222.0 386.0 L222.3 390.7 L222.7 386.8 L223.0 389.3 L223.4 387.4 L223.7 390.3 L224.1 384.5 L224.4 386.6 L224.8 387.4 L225.1 388.8 L225.5 388.1 L225.8 384.4 L226.2 385.9 L226.5 389.7 L226.9 387.5 L227.2 387.8 L227.6 386.5 L227.9 389.7 L228.3 388.1 L228.6 389.4 L229.0 385.0 L229.3 387.4 L229.7 384.5 L230.0 388.0 L230.4 385.6 L230.7 387.7 L231.1 383.9 L231.4 388.3 L231.8 383.9 L232.1 388.8 L232.5 385.7 L232.8 388.3 L233.2 384.0 L233.5 388.1 L233.9 384.7 L234.2 388.0 L234.6 385.2 L234.9 387.8 L235.3 383.7 L235.6 387.5 L236.0 385.2 L236.3 384.3 L236.7 384.4 L237.0 386.2 L237.4 383.5 L237.7 385.8 L238.1 384.1 L238.4 385.0 L238.8 384.5 L239.1 385.0 L239.5 386.6 L239.8 384.9 L240.2 380.7 L240.5 383.3 L240.9 380.9 L241.2 385.2 L241.6 386.4 L241.9 387.2 L242.3 386.4 L242.6 389.1 L243.0 387.1 L243.3 387.8 L243.7 387.1 L244.0 388.0 L244.4 388.2 L244.7 389.6 L245.1 386.3 L245.4 387.6 L245.8 387.2 L246.1 388.3 L246.5 388.0 L246.8 385.6 L247.2 386.6 L247.5 390.9 L247.9 387.8 L248.2 390.7 L248.6 388.0 L248.9 389.6 L249.3 387.3 L249.6 391.8 L250.0 387.5 L250.3 389.8 L250.7 388.9 L251.0 391.2 L251.4 385.0 L251.7 393.1 L252.1 388.0 L252.4 391.2 L252.8 389.6 L253.1 391.6 L253.5 390.4 L253.8 393.5 L254.2 390.0 L254.5 394.2 L254.9 390.3 L255.2 394.9 L255.6 392.7 L255.9 392.4 L256.3 393.8 L256.6 394.9 L257.0 388.4 L257.3 394.2 L257.7 393.5 L258.0 392.4 L258.4 396.9 L258.7 396.5 L259.1 392.9 L259.4 397.1 L259.8 391.7 L260.1 396.1 L260.5 394.2 L260.8 395.2 L261.2 394.6 L261.5 397.2 L261.9 396.6 L262.2 393.0 L262.6 394.3 L262.9 394.2 L263.3 393.0 L263.6 394.7 L264.0 395.6 L264.3 397.4 L264.7 396.1 L265.0 398.6 L265.4 397.5 L265.7 400.0 L266.1 393.7 L266.4 394.7 L266.8 396.3 L267.1 399.6 L267.5 396.0 L267.8 400.6 L268.2 399.7 L268.5 395.9 L268.9 397.9 L269.2 401.4 L269.6 398.4 L269.9 401.1 L270.3 398.3 L270.6 401.5 L271.0 399.4 L271.3 400.0 L271.7 396.9 L272.1 400.9 L272.4 393.7 L272.8 398.6 L273.1 399.6 L273.5 400.5 L273.8 402.1 L274.2 402.5 L274.5 399.4 L274.9 402.1 L275.2 401.6 L275.6 403.0 L275.9 402.3 L276.3 402.9 L276.6 399.7 L277.0 403.9 L277.3 399.5 L277.7 404.2 L278.0 400.0 L278.4 403.0 L278.7 396.6 L279.1 399.0 L279.4 401.1 L279.8 400.1 L280.1 400.5 L280.5 404.0 L280.8 402.5 L281.2 403.2 L281.5 401.2 L281.9 406.8 L282.2 398.8 L282.6 405.1 L282.9 403.1 L283.3 404.8 L283.6 403.2 L284.0 402.5 L284.3 403.1 L284.7 404.5 L285.0 400.4 L285.4 404.5 L285.7 402.4 L286.1 404.7 L286.4 403.4 L286.8 407.1 L287.1 403.9 L287.5 405.8 L287.8 402.6 L288.2 406.0 L288.5 407.0 L288.9 404.8 L289.2 404.1 L289.6 405.8 L289.9 403.9 L290.3 407.5 L290.6 402.8 L291.0 408.1 L291.3 402.5 L291.7 407.7 L292.0 406.4 L292.4 408.2 L292.7 404.5 L293.1 409.3 L293.4 404.8 L293.8 407.1 L294.1 406.7 L294.5 408.1 L294.8 408.4 L295.2 409.1 L295.5 407.1 L295.9 408.0 L296.2 402.6 L296.6 409.0 L296.9 401.9 L297.3 410.1 L297.6 403.3 L298.0 408.9 L298.3 408.2 L298.7 406.6 L299.0 407.3" fill="none" stroke="#000" stroke-width="1.2" stroke-linejoin="miter" />
</g>
<text x="176.7" y="345.8" font-size="12.5" fill="#f22" textLength="31.0" lengthAdjust="spacingAndGlyphs" stroke="#f22" stroke-width="0.45">10 Hz</text>
<path d="M283.9 329.4 V377.6 H302.6" fill="none" stroke="#111" stroke-width="1.8"/>
<text x="276.0" y="366.5" font-size="12.5" fill="#222" textLength="24.5" lengthAdjust="spacingAndGlyphs" transform="rotate(-90 276.0 366.5)" >1 nA</text>
<text x="281.6" y="393.5" font-size="12.5" fill="#222" textLength="22.0" lengthAdjust="spacingAndGlyphs" >20 s</text>
<g filter="url(#bl)">
<path d="M313.4 410 H324" stroke="#a3a" stroke-width="1.2"/>
<path d="M323.6 361 V388" stroke="#555" stroke-width="1"/><path d="M323.5 387 V393" stroke="#f33" stroke-width="1"/><path d="M323.5 393 V404" stroke="#33f" stroke-width="1"/>
<path d="M323.6 413.5 V386 L330 385 L333 380 L334.5 377 L335 374.5 L335.6 380 L336.2 386 V411 L333 411 L332 414 L325 414.8 Z" fill="#000"/>
<rect x="323.5" y="401.2" width="12.8" height="3.2" fill="#f00"/>
<rect x="323.5" y="404.6" width="12.2" height="7" fill="#00f"/>
<path d="M336.5 388.0 L337.0 386.0 L337.4 384.2 L337.9 378.8 L338.4 378.0 L338.8 380.1 L339.2 376.5 L340.0 374.5 L340.4 374.0 L340.9 371.8 L341.4 374.1 L341.8 367.5 L342.2 369.4 L342.7 367.3 L343.2 365.0 L343.6 366.4 L344.1 361.3 L344.6 360.6 L345.0 361.9 L345.4 358.6 L345.9 359.9 L346.3 356.1 L346.8 357.1 L347.4 355.0 L347.8 355.5 L348.3 351.7 L348.8 353.3 L349.2 350.7 L349.6 350.8 L350.1 352.4 L350.5 351.1 L351.0 350.0 L351.4 349.4 L351.9 352.5 L352.4 348.8 L352.8 354.5 L353.2 353.6 L353.7 354.5 L354.1 352.4 L355.0 355.0 L355.4 353.5 L355.9 353.8 L356.4 355.7 L356.8 359.3 L357.2 355.8 L357.7 352.9 L358.1 356.3 L358.6 357.3 L359.1 357.7 L359.5 353.2 L360.0 357.0 L360.4 356.7 L360.9 357.9 L361.4 354.7 L361.8 356.7 L362.2 355.2 L362.7 357.0 L363.1 355.6 L363.6 354.5 L364.1 353.7 L364.5 358.3 L365.0 354.0 L365.4 352.6 L366.3 354.0 L366.7 337.0 L367.1 356.0 L367.1 356.0 L367.6 356.9 L368.0 353.3 L368.5 358.4 L368.9 356.3 L369.4 356.8 L369.8 357.0 L370.2 361.5 L370.7 356.4 L371.2 357.3 L372.0 361.0 L372.4 362.5 L372.9 358.7 L373.4 361.4 L373.8 358.8 L374.2 366.1 L374.7 360.3 L375.1 364.1 L375.6 362.7 L376.1 363.4 L376.5 363.0 L376.9 364.4 L377.4 361.1 L378.0 364.0 L378.4 362.9 L378.9 364.1 L379.4 363.0 L379.8 367.3 L380.2 368.8 L380.7 363.4 L381.1 365.9 L381.6 366.2 L382.1 368.6 L382.5 365.7 L383.0 368.0 L383.4 368.6 L383.9 370.2 L384.4 371.6 L384.8 368.0 L385.2 368.6 L385.7 368.9 L386.1 367.3 L386.6 369.5 L387.1 371.5 L387.5 369.3 L387.9 371.6 L388.4 371.6 L389.0 371.0 L389.4 372.5 L389.9 372.9 L390.4 373.2 L390.8 372.5 L391.2 375.2 L391.7 375.7 L392.1 374.5 L392.6 377.1 L393.1 374.4 L393.5 372.3 L393.9 374.5 L394.4 374.0 L395.0 375.0 L395.4 376.3 L395.9 374.5 L396.4 373.7 L396.8 374.6 L397.2 378.8 L397.7 373.0 L398.1 378.9 L398.6 376.8 L399.1 378.6 L399.5 377.0 L400.0 378.0 L400.4 379.7 L400.9 380.0 L401.4 378.0 L401.8 379.2 L402.2 379.9 L402.7 379.4 L403.1 379.3 L403.6 380.4 L404.1 378.9 L404.5 382.0 L404.9 379.0 L405.4 378.9 L406.0 381.0 L406.4 381.0 L406.9 381.2 L407.4 381.9 L407.8 383.0 L408.2 381.1 L408.7 383.5 L409.1 385.8 L409.6 382.5 L410.1 383.8 L410.5 382.1 L410.9 382.0 L411.4 382.5 L412.0 384.0 L412.4 384.2 L412.9 383.1 L413.4 386.6 L413.8 386.0 L414.2 388.6 L414.7 386.3 L415.1 385.0 L415.6 384.7 L416.1 386.0 L416.5 387.8 L416.9 386.5 L417.4 386.9 L418.0 387.0 L418.4 388.4 L418.9 387.3 L419.4 386.9 L419.8 387.4 L420.2 388.2 L420.7 384.5 L421.1 390.7 L421.6 388.2 L422.1 389.6 L422.5 390.6 L423.0 390.0 L423.0 390.0 L423.5 391.2 L424.0 389.7 L424.5 390.8 L425.0 391.4 L425.5 391.6 L426.0 391.8 L426.5 392.0 L427.0 391.1 L427.5 392.7 L428.0 393.1 L428.5 391.2 L429.0 392.5 L429.5 393.8 L430.0 392.8 L430.5 392.1 L431.0 392.3 L431.5 394.3 L432.0 394.2 L432.5 393.1 L433.0 394.1 L433.5 394.7 L434.0 395.8 L434.5 394.4 L435.0 395.0 L435.5 395.8 L436.0 394.7 L436.5 394.7 L437.0 394.8 L437.5 395.5 L438.0 396.2 L438.5 395.6 L439.0 395.4 L439.5 395.7 L440.0 396.5 L440.5 395.7 L441.0 396.1 L441.5 396.6 L442.0 397.2 L442.5 396.6 L443.0 397.5 L443.5 397.5 L444.0 399.0 L444.5 398.0 L445.0 399.2 L445.5 398.3 L446.0 398.5 L446.5 397.9 L447.0 399.1 L447.5 398.1 L448.0 398.4 L448.5 398.3 L449.0 400.0 L449.5 400.8 L450.0 399.6 L450.5 399.6 L451.0 400.0 L451.5 400.0 L452.0 400.5 L452.5 401.1 L453.0 400.5 L453.5 400.1 L454.0 402.0 L454.5 401.4 L455.0 400.2 L455.5 402.4 L456.0 402.2 L456.5 401.5 L457.0 402.0 L457.5 402.4 L458.0 403.3 L458.5 402.1 L459.0 402.3 L459.5 402.1 L460.0 402.9 L460.5 403.3 L461.0 403.6 L461.5 404.2 L462.0 402.4 L462.5 403.1 L463.0 403.5 L463.5 404.4 L464.0 404.4 L464.5 404.0 L465.0 404.3 L465.5 403.6 L466.0 405.2 L466.5 404.3 L467.0 404.1 L467.5 403.6 L468.0 404.5 L468.5 403.7 L469.0 405.6 L469.5 405.5 L470.0 403.7 L470.5 404.5 L471.0 405.0 L471.5 405.1 L472.0 404.8 L472.5 406.2 L473.0 405.0 L473.5 405.5 L474.0 405.5 L474.5 406.6 L475.0 405.9 L475.5 405.6 L476.0 405.3 L476.5 405.4 L477.0 406.0 L477.5 406.5 L478.0 405.3 L478.5 405.6 L479.0 405.6 L479.5 405.6 L480.0 406.0 L480.5 407.0 L481.0 406.1 L481.5 405.5 L482.0 405.6 L482.5 406.8 L483.0 405.2 L483.5 406.5 L484.0 406.0" fill="none" stroke="#111" stroke-width="1.2" stroke-linejoin="miter" />
<path d="M336.0 409.5 L337.0 409.0 L338.0 408.8 L339.0 408.5 L340.0 408.7 L341.0 408.1 L342.0 408.0 L343.0 407.4 L344.0 406.8 L345.0 406.4 L346.0 406.1 L347.0 405.6 L348.0 405.0 L349.0 404.8 L350.0 404.4 L351.0 403.7 L352.0 403.5 L353.0 402.7 L354.0 402.6 L355.0 402.0 L356.0 401.7 L357.0 401.2 L358.0 401.2 L359.0 401.0 L360.0 400.5 L361.0 400.4 L362.0 400.1 L363.0 400.4 L364.0 400.3 L365.0 400.2 L366.3 400.0 L366.7 391.0 L367.1 400.0 L367.1 400.0 L368.1 400.2 L369.1 399.8 L370.1 399.8 L371.1 399.8 L372.1 399.8 L373.1 400.1 L375.0 400.0 L376.0 400.2 L377.0 400.0 L378.0 400.1 L379.0 400.2 L380.0 400.6 L381.0 400.7 L382.0 400.9 L383.0 400.7 L384.0 401.1 L385.0 401.0 L386.0 401.1 L387.0 401.1 L388.0 401.2 L389.0 401.3 L390.0 401.7 L391.0 401.8 L392.0 401.8 L393.0 401.6 L394.0 401.7 L395.0 402.0 L396.0 401.9 L397.0 402.1 L398.0 402.3 L399.0 402.0 L400.0 402.3 L401.0 402.5 L402.0 402.2 L403.0 402.5 L404.0 402.7 L405.0 402.7 L406.0 402.7 L407.0 403.0 L408.0 402.9 L409.0 402.9 L410.0 403.0 L411.0 403.1 L412.0 403.5 L413.0 403.6 L414.0 403.7 L415.0 403.7 L416.0 403.6 L417.0 403.8 L418.0 404.0 L419.0 404.3 L420.0 404.1 L421.0 404.6 L422.0 404.7 L423.0 404.7 L424.0 404.6 L425.0 405.0 L426.0 405.2 L427.0 405.2 L428.0 405.4 L429.0 405.4 L430.0 405.6 L431.0 405.6 L432.0 405.9 L433.0 406.0 L434.0 406.1 L435.0 406.1 L436.0 406.0 L437.0 406.1 L438.0 406.2 L439.0 406.6 L440.0 406.5 L441.0 406.7 L442.0 406.8 L443.0 407.0 L444.0 407.1 L445.0 407.1 L446.0 407.0 L447.0 407.3 L448.0 407.2 L449.0 407.5 L450.0 407.3 L451.0 407.8 L452.0 407.7 L453.0 407.7 L454.0 408.1 L455.0 408.0 L456.0 407.9 L457.0 408.4 L458.0 408.4 L459.0 408.2 L460.0 408.6 L461.0 408.6 L462.0 408.9 L463.0 408.8 L464.0 408.9 L465.0 409.2 L466.0 408.9 L467.0 409.3 L468.0 409.1 L469.0 409.3 L470.0 409.5 L471.0 409.3 L472.0 409.8 L473.0 409.6 L474.0 409.8 L475.0 409.6 L476.0 409.8 L477.0 409.8 L478.0 409.6 L479.0 409.8 L480.0 410.0 L481.0 409.8 L482.0 410.0 L483.0 409.9 L484.0 410.0" fill="none" stroke="#f33" stroke-width="1.2" stroke-linejoin="miter" />
<path d="M336.0 410.5 L337.0 410.4 L338.0 410.5 L339.0 410.5 L340.0 410.4 L341.0 410.1 L342.0 410.1 L343.0 410.1 L344.0 410.0 L345.0 409.8 L346.0 409.9 L347.0 409.7 L348.0 409.8 L349.0 409.6 L350.0 409.5 L351.0 409.3 L352.0 409.5 L353.0 409.2 L354.0 409.3 L355.0 409.0 L356.0 409.3 L357.0 409.1 L358.0 409.1 L359.0 408.8 L360.0 408.9 L361.0 408.8 L362.0 408.7 L363.0 408.8 L364.0 408.5 L365.0 408.6 L366.3 408.5 L366.7 402.0 L367.1 408.5 L367.1 408.5 L368.1 408.3 L369.1 408.6 L370.1 408.7 L371.1 408.3 L372.1 408.5 L373.1 408.5 L374.1 408.6 L375.1 408.6 L376.1 408.4 L377.1 408.7 L378.1 408.4 L379.1 408.4 L380.1 408.6 L381.1 408.3 L382.1 408.4 L383.1 408.5 L384.1 408.4 L385.1 408.4 L386.1 408.7 L387.1 408.5 L388.1 408.6 L389.1 408.4 L390.1 408.7 L391.1 408.4 L392.1 408.7 L393.1 408.5 L395.0 408.5 L396.0 408.7 L397.0 408.6 L398.0 408.6 L399.0 408.6 L400.0 408.7 L401.0 408.5 L402.0 408.4 L403.0 408.8 L404.0 408.7 L405.0 408.7 L406.0 408.7 L407.0 408.5 L408.0 408.6 L409.0 408.8 L410.0 408.9 L411.0 408.8 L412.0 408.6 L413.0 408.8 L414.0 408.7 L415.0 408.7 L416.0 408.6 L417.0 408.6 L418.0 408.7 L419.0 408.8 L420.0 408.7 L421.0 408.7 L422.0 408.8 L423.0 408.9 L424.0 408.9 L425.0 408.7 L426.0 409.0 L427.0 408.8 L428.0 409.1 L429.0 409.1 L430.0 408.7 L431.0 408.9 L432.0 409.1 L433.0 408.9 L434.0 409.0 L435.0 408.9 L436.0 408.8 L437.0 408.8 L438.0 408.8 L439.0 408.9 L440.0 409.0 L441.0 409.1 L442.0 409.1 L443.0 409.3 L444.0 409.2 L445.0 409.1 L446.0 409.4 L447.0 409.3 L448.0 409.3 L449.0 409.5 L450.0 409.4 L451.0 409.3 L452.0 409.5 L453.0 409.4 L454.0 409.7 L455.0 409.4 L456.0 409.7 L457.0 409.4 L458.0 409.4 L459.0 409.7 L460.0 409.6 L461.0 409.7 L462.0 409.6 L463.0 409.9 L464.0 409.9 L465.0 409.9 L466.0 410.1 L467.0 410.1 L468.0 410.0 L469.0 410.1 L470.0 409.8 L471.0 409.9 L472.0 410.1 L473.0 410.3 L474.0 410.1 L475.0 410.2 L476.0 410.0 L477.0 410.2 L478.0 410.5 L479.0 410.4 L480.0 410.5 L481.0 410.2 L482.0 410.3 L483.0 410.3 L484.0 410.5" fill="none" stroke="#55f" stroke-width="1.2" stroke-linejoin="miter" />
</g>
<text x="319.0" y="348.0" font-size="12.5" fill="#f33" textLength="30.5" lengthAdjust="spacingAndGlyphs" stroke="#f33" stroke-width="0.45">50 Hz</text>
<path d="M448.6 353 V376 H475.6" fill="none" stroke="#111" stroke-width="1.8"/>
<text x="442.7" y="373.7" font-size="12.5" fill="#222" textLength="24.5" lengthAdjust="spacingAndGlyphs" transform="rotate(-90 442.7 373.7)" >1 nA</text>
<text x="453.0" y="390.0" font-size="12.5" fill="#222" textLength="14.0" lengthAdjust="spacingAndGlyphs" >20</text>
<text x="468.5" y="390.0" font-size="9" fill="#222" >s</text>
<g filter="url(#bl)">
<path d="M509 417 H518" stroke="#c22" stroke-width="1.2"/>
<rect x="517.8" y="413.6" width="6" height="5.4" fill="#000"/>
<rect x="517.5" y="415.6" width="6.7" height="1.6" fill="#f00"/>
<rect x="519.5" y="417" width="4.7" height="2" fill="#00f"/>
<path d="M524.0 411.0 L525.0 395.0 L526.0 367.0 L527.0 345.0 L528.0 332.0 L528.0 331.8 L528.4 336.8 L528.8 331.9 L529.2 336.5 L529.6 331.9 L530.0 335.8 L530.4 331.3 L530.8 334.5 L531.2 331.4 L531.6 335.5 L532.0 331.1 L533.0 338.0 L533.5 341.2 L534.0 343.0 L534.5 341.1 L535.0 345.0 L535.5 346.4 L536.0 348.4 L536.6 348.0 L537.0 335.0 L537.4 350.0 L538.0 352.0 L538.5 353.7 L539.0 353.6 L539.5 356.2 L540.0 358.6 L540.5 356.4 L541.0 360.0 L541.5 359.8 L542.0 365.0 L542.5 366.0 L543.0 368.2 L543.5 370.1 L544.0 372.0 L544.5 371.4 L545.0 375.7 L545.5 377.9 L546.0 381.0 L546.6 381.0 L547.0 372.0 L547.5 382.0 L549.0 385.0 L549.5 384.7 L550.0 385.6 L550.5 385.7 L551.0 385.7 L551.5 387.8 L552.0 387.3 L552.5 387.9 L553.0 388.0 L553.5 386.5 L554.0 388.8 L554.5 391.5 L555.0 391.0 L555.5 393.6 L556.0 391.3 L556.5 393.6 L557.0 395.0 L557.5 396.1 L558.0 395.1 L558.5 394.4 L559.0 397.4 L559.5 398.2 L560.0 398.0 L560.5 397.4 L561.0 399.0 L561.5 399.9 L562.0 398.7 L562.6 400.0 L563.0 385.0 L563.4 400.0 L565.0 401.0 L566.2 401.5 L566.5 394.0 L566.9 402.0 L568.0 403.0 L569.7 403.0 L570.0 397.0 L570.4 403.5 L570.4 403.5 L571.1 403.8 L571.8 403.7 L573.0 404.0 L573.7 404.5 L574.4 404.2 L575.1 405.3 L575.8 404.7 L576.5 405.2 L577.2 405.7 L577.9 405.8 L578.6 406.0 L579.3 406.9 L580.0 407.0 L580.4 407.7 L580.3 407.6 L580.3 407.7 L580.6 403.5 L580.9 407.7 L581.0 407.9 L582.0 408.6 L583.0 408.6 L584.0 409.0 L585.0 409.5 L586.0 409.9 L587.0 409.9 L588.2 410.5 L588.2 410.6 L588.5 405.0 L588.8 410.6 L588.9 410.7 L590.0 411.0 L590.0 411.1 L590.3 405.0 L590.6 411.1 L590.7 411.1 L591.7 411.3 L592.7 411.7 L593.7 411.8 L594.7 411.8 L596.5 412.4 L596.5 412.5 L596.8 405.2 L597.1 412.5 L597.2 412.5 L598.2 412.3 L599.2 412.7 L600.2 413.0 L601.2 413.0 L602.2 412.6 L603.2 412.9 L605.0 413.0 L606.0 413.1 L607.0 413.1 L608.0 413.5 L609.0 413.5 L610.0 413.8 L611.0 413.6 L612.0 414.1 L613.0 414.0 L614.0 414.3 L615.0 414.3 L616.0 414.2 L617.0 414.6 L618.0 414.5 L619.0 415.0 L620.0 415.0 L621.7 415.2 L621.7 415.2 L622.0 407.5 L622.3 415.2 L622.4 415.2 L623.4 415.5 L624.4 415.5 L625.7 415.6 L625.7 415.6 L626.0 409.0 L626.3 415.6 L626.4 415.6 L627.4 416.0 L628.4 415.6 L630.0 416.0 L631.0 416.2 L632.0 416.3 L633.0 415.9 L634.0 416.1 L635.0 416.0 L636.0 416.3 L637.2 416.4 L637.2 416.4 L637.5 407.0 L637.8 416.4 L637.9 416.4 L638.9 416.6 L640.0 416.5 L641.7 416.5 L641.7 416.6 L642.0 408.0 L642.3 416.6 L642.4 416.6 L643.4 416.5 L644.7 416.6 L644.7 416.6 L645.0 410.0 L645.3 416.6 L645.4 416.6 L646.4 416.8 L647.4 416.6 L648.4 416.8 L649.4 416.6 L650.4 417.0 L651.4 416.7 L652.4 416.5 L653.4 416.6 L654.4 417.0 L655.4 417.1 L656.7 416.9 L656.7 416.9 L657.0 409.0 L657.3 416.9 L657.4 416.9 L658.4 417.0 L660.0 417.0 L661.7 417.0 L661.7 417.0 L662.0 411.5 L662.3 417.0 L662.4 417.0 L663.4 416.8 L664.4 417.2 L665.4 417.1 L666.4 416.8 L667.4 416.9 L668.4 417.1 L669.4 416.7 L670.4 416.7 L671.4 416.9 L672.4 417.2 L673.4 417.3 L674.4 416.9 L675.4 417.2 L676.4 417.2 L677.4 417.2 L678.4 417.1 L679.4 417.3 L680.7 417.0" fill="none" stroke="#111" stroke-width="1.3" stroke-linejoin="miter" />
<path d="M524.0 417.0 L525.0 416.8 L526.0 416.7 L527.0 416.3 L528.0 416.0 L529.0 414.8 L530.0 414.0 L531.0 413.0 L532.0 412.0 L533.0 411.2 L534.0 410.5 L535.0 409.9 L536.0 409.2 L537.0 408.5 L538.0 408.2 L539.0 408.0 L540.0 407.9 L541.0 407.7 L542.0 407.5 L543.0 407.5 L544.0 407.7 L545.0 407.6 L546.0 407.8 L547.0 407.8 L548.0 408.0 L549.0 408.3 L550.0 408.5 L551.0 408.8 L552.0 408.9 L553.0 408.9 L554.0 409.5 L555.0 409.5 L556.0 409.7 L557.0 409.8 L558.0 410.0 L559.0 410.3 L560.0 410.6 L561.0 410.9 L562.0 410.9 L563.0 411.2 L564.0 411.2 L565.0 411.5 L566.0 411.6 L567.0 411.7 L568.0 411.9 L569.0 412.0 L570.0 412.4 L571.0 412.5 L572.0 412.4 L573.0 412.6 L574.0 413.0 L575.0 413.0 L576.0 413.2 L577.0 413.4 L578.0 413.5 L579.0 413.7 L580.0 413.6 L581.0 413.7 L582.0 414.0 L583.0 414.0 L584.0 414.6 L585.0 414.5 L586.0 414.6 L587.0 414.8 L588.0 415.0 L589.0 415.1 L590.0 414.9 L591.0 415.0 L592.0 415.0 L593.0 415.4 L594.0 415.5 L595.0 415.5 L596.0 415.5 L597.0 415.6 L598.0 415.8 L599.0 416.0 L600.0 416.0 L601.0 416.2 L602.0 416.2 L603.0 416.3 L604.0 416.1 L605.0 416.1 L606.0 416.1 L607.0 416.4 L608.0 416.0 L609.0 416.1 L610.0 416.1 L611.0 416.5 L612.0 416.5 L613.0 416.2 L614.0 416.5 L615.0 416.6 L616.0 416.4 L617.0 416.3 L618.0 416.6 L619.0 416.4 L620.0 416.5 L621.0 416.3 L622.0 416.7 L623.0 416.5 L624.0 416.5 L625.0 416.6 L626.0 416.4 L627.0 416.3 L628.0 416.5 L629.0 416.5 L630.0 416.3 L631.0 416.5 L632.0 416.7 L633.0 416.5 L634.0 416.7 L635.0 416.7 L636.0 416.5 L637.0 416.4 L638.0 416.7 L639.0 416.7 L640.0 416.6 L641.0 416.5 L642.0 416.9 L643.0 416.9 L644.0 416.6 L645.0 416.7 L646.0 416.8 L647.0 416.6 L648.0 416.5 L649.0 416.7 L650.0 416.8 L651.0 416.8 L652.0 416.8 L653.0 416.6 L654.0 416.6 L655.0 416.7 L656.0 416.8 L657.0 416.7 L658.0 417.0 L659.0 416.6 L660.0 417.1 L661.0 416.7 L662.0 417.0 L663.0 416.7 L664.0 416.9 L665.0 416.8 L666.0 416.6 L667.0 417.0 L668.0 417.1 L669.0 416.8 L670.0 417.0 L671.0 416.9 L672.0 417.2 L673.0 416.7 L674.0 416.9 L675.0 416.8 L676.0 417.0 L677.0 417.1 L678.0 417.1 L679.0 417.0 L680.7 417.0" fill="none" stroke="#f33" stroke-width="1.2" stroke-linejoin="miter" />
<path d="M524.0 417.5 L525.0 417.3 L526.0 417.3 L527.0 416.9 L528.0 416.9 L529.0 416.9 L530.0 416.7 L531.0 416.7 L532.0 416.2 L533.0 416.3 L534.0 416.0 L535.0 416.0 L536.0 415.8 L537.0 415.7 L538.0 415.7 L539.0 415.7 L540.0 415.7 L541.0 415.7 L542.0 415.6 L543.0 415.7 L544.0 415.6 L545.0 415.5 L546.0 415.7 L547.0 415.4 L548.0 415.5 L549.0 415.5 L550.0 415.4 L551.0 415.6 L552.0 415.4 L553.0 415.7 L554.0 415.4 L555.0 415.4 L556.0 415.5 L557.0 415.5 L558.0 415.4 L559.0 415.3 L560.0 415.5 L561.0 415.7 L562.0 415.5 L563.0 415.4 L564.0 415.7 L565.0 415.6 L566.0 415.6 L567.0 415.6 L568.0 415.8 L569.0 415.7 L570.0 415.7 L571.0 416.0 L572.0 415.7 L573.0 415.8 L574.0 415.7 L575.0 415.9 L576.0 416.0 L577.0 415.9 L578.0 415.9 L579.0 415.9 L580.0 416.0 L581.0 416.2 L582.0 416.1 L583.0 416.3 L584.0 416.1 L585.0 416.3 L586.0 416.1 L587.0 416.2 L588.0 416.6 L589.0 416.5 L590.0 416.6 L591.0 416.5 L592.0 416.6 L593.0 416.5 L594.0 416.6 L595.0 416.8 L596.0 416.9 L597.0 416.8 L598.0 417.0 L599.0 416.8 L600.0 417.0 L601.0 417.1 L602.0 416.9 L603.0 417.0 L604.0 417.0 L605.0 417.1 L606.0 416.9 L607.0 417.0 L608.0 417.1 L609.0 416.9 L610.0 417.0 L611.0 417.1 L612.0 417.1 L613.0 417.1 L614.0 417.2 L615.0 417.1 L616.0 417.0 L617.0 417.1 L618.0 417.2 L619.0 417.1 L620.0 417.2 L621.0 417.1 L622.0 417.1 L623.0 417.3 L624.0 417.3 L625.0 417.2 L626.0 417.0 L627.0 417.2 L628.0 417.0 L629.0 417.4 L630.0 417.4 L631.0 417.3 L632.0 417.1 L633.0 417.3 L634.0 417.1 L635.0 417.3 L636.0 417.2 L637.0 417.0 L638.0 417.4 L639.0 417.2 L640.0 417.4 L641.0 417.3 L642.0 417.3 L643.0 417.4 L644.0 417.2 L645.0 417.4 L646.0 417.2 L647.0 417.1 L648.0 417.2 L649.0 417.1 L650.0 417.1 L651.0 417.4 L652.0 417.2 L653.0 417.2 L654.0 417.3 L655.0 417.3 L656.0 417.5 L657.0 417.5 L658.0 417.5 L659.0 417.6 L660.0 417.3 L661.0 417.5 L662.0 417.3 L663.0 417.6 L664.0 417.5 L665.0 417.5 L666.0 417.3 L667.0 417.3 L668.0 417.6 L669.0 417.4 L670.0 417.5 L671.0 417.6 L672.0 417.3 L673.0 417.5 L674.0 417.4 L675.0 417.6 L676.0 417.5 L677.0 417.4 L678.0 417.7 L679.0 417.4 L680.7 417.5" fill="none" stroke="#55f" stroke-width="1.2" stroke-linejoin="miter" />
</g>
<text x="504.8" y="376.6" font-size="12.5" fill="#f33" textLength="20.5" lengthAdjust="spacingAndGlyphs" >140</text>
<text x="504.6" y="392.0" font-size="12.5" fill="#f33" textLength="14.5" lengthAdjust="spacingAndGlyphs" >Hz</text>
<path d="M636.9 366 V377.5 H654.4" fill="none" stroke="#111" stroke-width="1.8"/>
<text x="630.8" y="382.7" font-size="12.5" fill="#222" textLength="23.5" lengthAdjust="spacingAndGlyphs" transform="rotate(-90 630.8 382.7)" >1 nA</text>
<text x="636.9" y="393.0" font-size="12.5" fill="#222" textLength="21.0" lengthAdjust="spacingAndGlyphs" >20 s</text>
<path d="M24.4 494.4 V535.7" stroke="#000" stroke-width="1.5"/>
<path d="M34.4 554 H49" stroke="#000" stroke-width="1.8"/>
<text x="13.2" y="527.0" font-size="15" fill="#000" textLength="30.5" lengthAdjust="spacingAndGlyphs" transform="rotate(-90 13.2 527.0)" >2 nA</text>
<text x="25.2" y="573.3" font-size="15" fill="#000" textLength="33.6" lengthAdjust="spacingAndGlyphs" >100 s</text>
<path d="M369.4 490.4 V543.8" stroke="#000" stroke-width="1.5"/>
<path d="M382.7 553.9 H397.8" stroke="#000" stroke-width="1.8"/>
<text x="360.6" y="538.3" font-size="15" fill="#000" textLength="43.6" lengthAdjust="spacingAndGlyphs" transform="rotate(-90 360.6 538.3)" >0.5 nA</text>
<text x="374.7" y="573.4" font-size="15" fill="#000" textLength="35.0" lengthAdjust="spacingAndGlyphs" >100 s</text>
<path d="M31.3 543.0 L37.5 543.0 L38.0 545.0 L39.0 540.0 L39.5 510.0 L40.0 483.8 L40.6 495.0 L42.0 505.0 L43.0 517.0 L44.0 527.0 L46.0 537.0 L46.5 532.0 L47.0 538.0 L47.7 529.0 L48.2 540.0 L48.8 531.0 L49.5 531.0 L50.0 541.0 L50.5 533.0 L51.0 541.0 L52.0 542.0 L54.0 543.0 L55.0 543.0" fill="none" stroke="#000" stroke-width="1.4" stroke-linejoin="miter" />
<path d="M70.2 543.0 L73.7 543.0 L74.0 528.0 L74.4 543.0 L75.5 540.0 L76.0 492.5 L76.3 550.0 L76.6 500.0 L78.0 510.0 L79.0 519.0 L80.0 525.0 L81.0 528.0 L81.5 536.0 L82.0 524.0 L82.5 522.0 L83.0 538.0 L83.5 524.0 L84.0 538.0 L84.5 530.0 L85.0 535.0 L87.0 541.0 L91.0 543.0" fill="none" stroke="#000" stroke-width="1.4" stroke-linejoin="miter" />
<path d="M100.0 543.0 L102.5 543.0 L103.0 546.0 L103.8 530.0 L104.5 498.6 L105.0 508.0 L106.0 515.0 L107.0 522.0 L108.0 528.0 L109.5 533.0 L111.0 537.0 L111.8 538.0 L112.5 535.0 L113.0 539.0 L115.0 541.0 L118.0 543.0" fill="none" stroke="#000" stroke-width="1.4" stroke-linejoin="miter" />
<path d="M131.1 543.8 L134.6 543.8 L135.0 547.5 L135.5 510.0 L136.2 512.0 L136.7 498.0 L137.3 510.0 L138.0 517.0 L139.0 524.0 L140.0 530.0 L141.0 534.0 L141.5 530.0 L142.0 536.0 L143.0 539.0 L146.2 541.0 L146.5 533.0 L146.8 541.0 L148.0 542.0 L150.0 541.0 L151.0 543.0 L153.0 544.0" fill="none" stroke="#000" stroke-width="1.4" stroke-linejoin="miter" />
<path d="M163.2 544.0 L165.6 544.0 L166.0 546.0 L166.5 512.0 L167.0 512.0 L167.6 481.6 L168.3 505.0 L169.0 510.0 L170.0 518.0 L171.0 525.0 L172.0 530.0 L173.0 535.0 L174.6 536.0 L175.0 530.0 L175.5 537.0 L176.5 539.0 L177.6 540.0 L178.0 535.0 L178.6 540.0 L181.0 543.0 L183.0 545.0" fill="none" stroke="#000" stroke-width="1.4" stroke-linejoin="miter" />
<path d="M199.0 544.0 L201.5 544.0 L202.0 547.0 L202.7 530.0 L203.0 515.0 L203.5 525.0 L204.0 514.0 L204.5 524.0 L205.0 514.0 L205.5 525.0 L206.0 514.0 L206.5 524.0 L207.0 515.0 L207.5 520.0 L208.5 530.0 L209.5 535.0 L210.5 538.0 L213.0 542.0 L217.5 544.0" fill="none" stroke="#000" stroke-width="1.4" stroke-linejoin="miter" />
<path d="M231.1 544.2 L233.6 544.2 L234.0 546.0 L234.5 521.0 L235.3 523.0 L236.0 507.0 L236.7 515.0 L237.5 520.0 L238.5 527.0 L239.5 532.0 L241.4 536.0 L241.8 525.0 L242.2 536.0 L243.0 538.0 L246.0 542.0 L247.0 540.0 L247.5 542.0 L250.0 542.0 L253.5 544.0" fill="none" stroke="#000" stroke-width="1.4" stroke-linejoin="miter" />
<path d="M268.8 544.0 L271.6 544.0 L272.0 546.0 L272.8 530.0 L273.4 520.0 L274.0 505.6 L274.6 517.0 L275.5 522.0 L277.0 530.0 L278.0 528.0 L279.0 534.0 L280.0 538.0 L282.0 541.0 L284.5 543.0" fill="none" stroke="#000" stroke-width="1.4" stroke-linejoin="miter" />
<path d="M293.3 543.5 L295.4 543.5 L295.7 536.0 L296.0 543.5 L297.6 543.5 L298.0 546.0 L298.5 530.0 L299.0 518.0 L299.5 522.0 L300.2 510.0 L300.7 498.0 L301.3 510.0 L302.0 518.0 L303.5 530.0 L306.0 538.0 L308.0 542.0 L311.0 544.0" fill="none" stroke="#000" stroke-width="1.4" stroke-linejoin="miter" />
<path d="M319.0 544.0 L322.0 544.0 L322.5 546.0 L322.9 516.0 L323.5 525.0 L324.5 522.0 L325.5 518.0 L326.0 525.0 L327.0 530.0 L329.0 537.0 L331.0 541.5 L331.5 542.0" fill="none" stroke="#000" stroke-width="1.4" stroke-linejoin="miter" />
<path d="M46.3 537 L47.7 529 L49.5 531 L50.8 535 L51 541 L46.5 541Z" fill="#111"/>
<path d="M81.5 536 L82.2 523 L83.5 524 L84.8 531 L85.5 538 L82 539Z" fill="#111"/>
<path d="M203 515 H207.3 L207.8 526 H203Z" fill="#111"/>
<path d="M378.2 540.8 L381.0 540.0 L381.5 543.0 L382.0 532.0 L382.4 536.0 L382.7 547.5 L383.0 530.0 L383.5 518.0 L384.2 520.0 L385.0 515.4 L385.7 519.0 L386.5 516.0 L387.2 521.0 L388.0 524.0 L389.0 524.0 L390.0 527.0 L390.8 531.0 L391.5 532.0 L392.2 527.0 L393.0 528.0 L393.8 531.0 L394.5 530.0 L395.2 533.0 L396.0 534.0 L396.5 543.5 L399.7 543.5" fill="none" stroke="#f00" stroke-width="1.5" stroke-linejoin="miter" />
<path d="M414.4 543.5 L416.8 543.5 L417.0 522.0 L417.7 524.0 L418.5 516.6 L419.2 520.0 L419.5 543.0 L420.0 520.0 L420.7 518.0 L421.4 521.0 L422.0 517.0 L422.7 521.0 L423.3 519.0 L424.0 522.0 L425.0 525.0 L426.0 525.0 L427.0 528.0 L428.0 531.0 L429.0 531.0 L429.5 533.0 L430.3 529.0 L431.0 530.0 L431.7 533.0 L432.5 534.0 L432.7 543.5 L434.0 543.5" fill="none" stroke="#f00" stroke-width="1.5" stroke-linejoin="miter" />
<path d="M443.7 543.5 L446.0 538.0 L446.5 541.0 L447.2 536.0 L447.5 547.5 L448.0 524.0 L448.5 528.0 L449.0 530.0 L449.8 522.0 L450.5 518.0 L451.2 523.0 L452.0 526.0 L452.8 529.0 L454.0 532.0 L455.0 533.0 L456.0 536.0 L457.0 536.0 L457.5 545.0 L461.5 545.0" fill="none" stroke="#f00" stroke-width="1.5" stroke-linejoin="miter" />
<path d="M475.9 545.6 L479.0 541.0 L480.0 543.0 L480.5 548.0 L481.0 538.0 L481.5 531.0 L482.2 533.0 L483.0 530.2 L483.6 534.0 L484.2 535.0 L485.0 533.0 L485.5 532.0 L486.3 536.0 L487.0 538.0 L488.0 539.0 L488.5 541.0 L489.5 538.0 L490.3 541.0 L491.0 542.0 L492.0 543.0 L493.0 546.0 L494.5 543.0 L495.3 545.0 L495.5 538.0 L495.8 548.0 L496.5 545.5 L498.5 545.5" fill="none" stroke="#f00" stroke-width="1.5" stroke-linejoin="miter" />
<path d="M508.4 545.6 L510.7 545.6 L511.0 523.0 L511.3 548.0 L512.0 535.0 L512.7 528.0 L513.5 522.0 L514.2 524.0 L514.8 519.7 L515.5 523.0 L516.0 525.0 L516.7 524.0 L517.5 530.0 L518.3 533.0 L519.0 536.0 L519.8 531.0 L520.5 527.0 L521.0 535.0 L521.5 540.0 L522.3 542.0 L523.0 547.0 L524.0 545.5 L527.5 545.5" fill="none" stroke="#f00" stroke-width="1.5" stroke-linejoin="miter" />
<path d="M544.4 545.6 L547.0 543.0 L547.7 544.0 L548.0 531.0 L548.3 548.0 L548.8 541.0 L549.5 540.0 L550.3 538.0 L551.0 537.0 L552.0 535.0 L553.0 534.0 L554.0 534.5 L554.5 536.0 L555.5 536.5 L556.5 538.0 L557.5 538.5 L558.5 540.0 L559.5 541.0 L559.8 547.0 L561.0 545.0 L563.0 545.0" fill="none" stroke="#f00" stroke-width="1.5" stroke-linejoin="miter" />
<path d="M577.3 544.7 L579.3 544.7 L579.5 529.0 L580.0 533.0 L580.5 548.0 L581.0 535.0 L581.5 530.0 L582.5 529.0 L583.5 527.2 L584.3 529.0 L585.0 531.0 L586.0 530.0 L587.0 531.0 L587.8 534.0 L588.5 536.0 L589.5 536.0 L590.5 538.0 L591.7 537.0 L593.0 537.0 L594.0 536.0 L595.0 537.0 L595.7 540.0 L596.0 548.0 L597.0 544.0 L600.0 544.0" fill="none" stroke="#f00" stroke-width="1.5" stroke-linejoin="miter" />
<path d="M615.8 544.0 L617.5 542.0 L618.0 511.0 L618.5 540.0 L619.0 512.0 L619.5 535.0 L620.0 513.0 L620.5 530.0 L621.0 535.0 L621.5 528.0 L622.0 528.0 L622.7 532.0 L623.5 530.0 L624.2 527.0 L625.0 526.0 L625.7 530.0 L626.5 532.0 L627.3 533.0 L628.0 535.0 L628.8 534.0 L629.5 538.0 L630.0 541.0 L630.5 543.0 L632.5 543.5" fill="none" stroke="#f00" stroke-width="1.5" stroke-linejoin="miter" />
<path d="M640.0 544.0 L641.0 542.0 L641.3 521.0 L641.6 546.0 L642.0 520.0 L642.5 518.0 L643.0 530.0 L643.5 520.0 L644.0 536.0 L644.8 537.0 L645.5 538.0 L646.0 534.0 L646.5 535.0 L647.0 524.0 L647.5 527.0 L648.0 517.0 L648.5 522.0 L649.0 512.0 L649.5 508.3 L650.0 516.0 L650.5 510.0 L651.0 512.0 L651.5 520.0 L652.0 513.0 L652.5 521.0 L653.0 525.0 L653.5 532.0 L654.0 538.0 L655.0 543.0 L657.0 544.5" fill="none" stroke="#f00" stroke-width="1.5" stroke-linejoin="miter" />
<path d="M667.1 544.5 L668.5 541.0 L669.0 543.0 L669.5 535.0 L670.0 540.0 L670.6 534.0 L671.0 538.0 L671.5 533.0 L672.0 532.0 L672.6 537.0 L673.0 531.0 L673.5 533.0 L674.0 528.0 L674.5 532.0 L675.0 525.0 L675.6 530.0 L676.0 529.0 L676.5 532.0 L677.0 534.0 L677.5 537.0 L678.0 544.0" fill="none" stroke="#f00" stroke-width="1.5" stroke-linejoin="miter" />
<path d="M648 520 L649.5 508.3 L652 513 L653 525 L648.5 524Z" fill="#f00"/>
<path d="M641.3 521 L643 519 L643.5 533 L641.5 538Z" fill="#f00"/>
<path d="M618 511 L620 513 L621 535 L618.3 538Z" fill="#f00"/>
</svg>
</body></html>
